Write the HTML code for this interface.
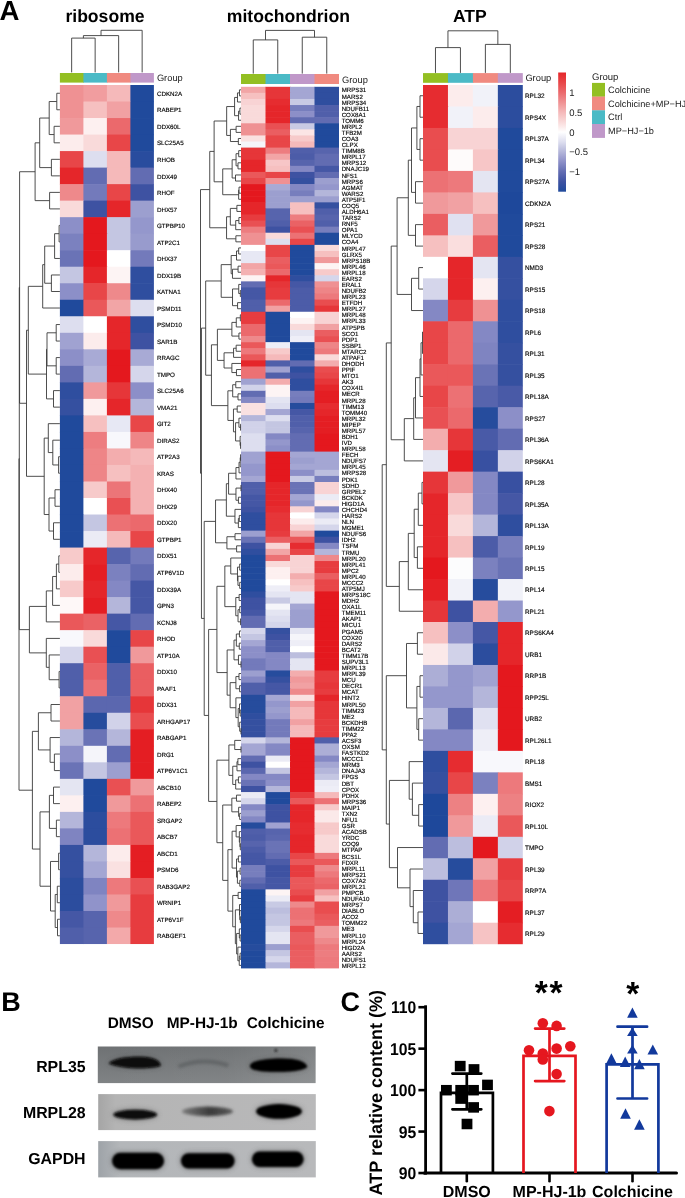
<!DOCTYPE html>
<html><head><meta charset="utf-8"><style>html,body{margin:0;padding:0;background:#fff;}body{width:685px;height:1198px;overflow:hidden;font-family:"Liberation Sans",sans-serif;}svg{display:block;will-change:transform;text-rendering:geometricPrecision;}</style></head><body>
<svg width="685" height="1198" viewBox="0 0 685 1198" font-family="Liberation Sans, sans-serif">
<rect width="685" height="1198" fill="#fff"/>
<text x="-0.6" y="19.6" font-size="27.6" font-weight="bold">A</text>
<text x="105" y="21.7" font-size="17.6" font-weight="bold" text-anchor="middle">ribosome</text>
<text x="288.4" y="21.7" font-size="17.6" font-weight="bold" text-anchor="middle">mitochondrion</text>
<text x="469.9" y="21.7" font-size="17.6" font-weight="bold" text-anchor="middle">ATP</text>
<rect x="59.90" y="85.00" width="24.10" height="17.12" fill="#ef9193"/>
<rect x="83.40" y="85.00" width="24.10" height="17.12" fill="#f19d9f"/>
<rect x="106.90" y="85.00" width="24.10" height="17.12" fill="#f5b9ba"/>
<rect x="130.40" y="85.00" width="23.50" height="17.12" fill="#204a9c"/>
<rect x="59.90" y="101.52" width="24.10" height="17.12" fill="#ef9193"/>
<rect x="83.40" y="101.52" width="24.10" height="17.12" fill="#f6c0c0"/>
<rect x="106.90" y="101.52" width="24.10" height="17.12" fill="#f1a1a3"/>
<rect x="130.40" y="101.52" width="23.50" height="17.12" fill="#204a9c"/>
<rect x="59.90" y="118.04" width="24.10" height="17.12" fill="#f0999b"/>
<rect x="83.40" y="118.04" width="24.10" height="17.12" fill="#fdf0f0"/>
<rect x="106.90" y="118.04" width="24.10" height="17.12" fill="#eb696c"/>
<rect x="130.40" y="118.04" width="23.50" height="17.12" fill="#204a9c"/>
<rect x="59.90" y="134.56" width="24.10" height="17.12" fill="#fcecec"/>
<rect x="83.40" y="134.56" width="24.10" height="17.12" fill="#f9dada"/>
<rect x="106.90" y="134.56" width="24.10" height="17.12" fill="#e84648"/>
<rect x="130.40" y="134.56" width="23.50" height="17.12" fill="#204a9c"/>
<rect x="59.90" y="151.08" width="24.10" height="17.12" fill="#e84648"/>
<rect x="83.40" y="151.08" width="24.10" height="17.12" fill="#dddeef"/>
<rect x="106.90" y="151.08" width="24.10" height="17.12" fill="#f5b9ba"/>
<rect x="130.40" y="151.08" width="23.50" height="17.12" fill="#294c9e"/>
<rect x="59.90" y="167.60" width="24.10" height="17.12" fill="#e5262a"/>
<rect x="83.40" y="167.60" width="24.10" height="17.12" fill="#626cb2"/>
<rect x="106.90" y="167.60" width="24.10" height="17.12" fill="#f5b9ba"/>
<rect x="130.40" y="167.60" width="23.50" height="17.12" fill="#626cb2"/>
<rect x="59.90" y="184.12" width="24.10" height="17.12" fill="#ee898b"/>
<rect x="83.40" y="184.12" width="24.10" height="17.12" fill="#737abb"/>
<rect x="106.90" y="184.12" width="24.10" height="17.12" fill="#e84648"/>
<rect x="130.40" y="184.12" width="23.50" height="17.12" fill="#3e52a2"/>
<rect x="59.90" y="200.64" width="24.10" height="17.12" fill="#f9dada"/>
<rect x="83.40" y="200.64" width="24.10" height="17.12" fill="#3e52a2"/>
<rect x="106.90" y="200.64" width="24.10" height="17.12" fill="#e5262a"/>
<rect x="130.40" y="200.64" width="23.50" height="17.12" fill="#9c9fcf"/>
<rect x="59.90" y="217.16" width="24.10" height="17.12" fill="#8c8fc8"/>
<rect x="83.40" y="217.16" width="24.10" height="17.12" fill="#e4181e"/>
<rect x="106.90" y="217.16" width="24.10" height="17.12" fill="#c4c6e2"/>
<rect x="130.40" y="217.16" width="23.50" height="17.12" fill="#9497cc"/>
<rect x="59.90" y="233.68" width="24.10" height="17.12" fill="#7b81bf"/>
<rect x="83.40" y="233.68" width="24.10" height="17.12" fill="#e4181e"/>
<rect x="106.90" y="233.68" width="24.10" height="17.12" fill="#c4c6e2"/>
<rect x="130.40" y="233.68" width="23.50" height="17.12" fill="#989bcd"/>
<rect x="59.90" y="250.20" width="24.10" height="17.12" fill="#6a73b6"/>
<rect x="83.40" y="250.20" width="24.10" height="17.12" fill="#e4181e"/>
<rect x="106.90" y="250.20" width="24.10" height="17.12" fill="#ffffff"/>
<rect x="130.40" y="250.20" width="23.50" height="17.12" fill="#737abb"/>
<rect x="59.90" y="266.72" width="24.10" height="17.12" fill="#c4c6e2"/>
<rect x="83.40" y="266.72" width="24.10" height="17.12" fill="#e5262a"/>
<rect x="106.90" y="266.72" width="24.10" height="17.12" fill="#fdf4f4"/>
<rect x="130.40" y="266.72" width="23.50" height="17.12" fill="#2f4e9f"/>
<rect x="59.90" y="283.24" width="24.10" height="17.12" fill="#8c8fc8"/>
<rect x="83.40" y="283.24" width="24.10" height="17.12" fill="#e84648"/>
<rect x="106.90" y="283.24" width="24.10" height="17.12" fill="#ee898b"/>
<rect x="130.40" y="283.24" width="23.50" height="17.12" fill="#2f4e9f"/>
<rect x="59.90" y="299.76" width="24.10" height="17.12" fill="#204a9c"/>
<rect x="83.40" y="299.76" width="24.10" height="17.12" fill="#ea585a"/>
<rect x="106.90" y="299.76" width="24.10" height="17.12" fill="#f2a5a6"/>
<rect x="130.40" y="299.76" width="23.50" height="17.12" fill="#dddeef"/>
<rect x="59.90" y="316.28" width="24.10" height="17.12" fill="#dddeef"/>
<rect x="83.40" y="316.28" width="24.10" height="17.12" fill="#ffffff"/>
<rect x="106.90" y="316.28" width="24.10" height="17.12" fill="#e5262a"/>
<rect x="130.40" y="316.28" width="23.50" height="17.12" fill="#2f4e9f"/>
<rect x="59.90" y="332.80" width="24.10" height="17.12" fill="#a0a2d1"/>
<rect x="83.40" y="332.80" width="24.10" height="17.12" fill="#fcecec"/>
<rect x="106.90" y="332.80" width="24.10" height="17.12" fill="#e5262a"/>
<rect x="130.40" y="332.80" width="23.50" height="17.12" fill="#3e52a2"/>
<rect x="59.90" y="349.32" width="24.10" height="17.12" fill="#8c8fc8"/>
<rect x="83.40" y="349.32" width="24.10" height="17.12" fill="#a8aad5"/>
<rect x="106.90" y="349.32" width="24.10" height="17.12" fill="#e4181e"/>
<rect x="130.40" y="349.32" width="23.50" height="17.12" fill="#a8aad5"/>
<rect x="59.90" y="365.84" width="24.10" height="17.12" fill="#626cb2"/>
<rect x="83.40" y="365.84" width="24.10" height="17.12" fill="#b4b6da"/>
<rect x="106.90" y="365.84" width="24.10" height="17.12" fill="#e4181e"/>
<rect x="130.40" y="365.84" width="23.50" height="17.12" fill="#d5d6eb"/>
<rect x="59.90" y="382.36" width="24.10" height="17.12" fill="#2f4e9f"/>
<rect x="83.40" y="382.36" width="24.10" height="17.12" fill="#f0999b"/>
<rect x="106.90" y="382.36" width="24.10" height="17.12" fill="#e63639"/>
<rect x="130.40" y="382.36" width="23.50" height="17.12" fill="#8c8fc8"/>
<rect x="59.90" y="398.88" width="24.10" height="17.12" fill="#3550a0"/>
<rect x="83.40" y="398.88" width="24.10" height="17.12" fill="#fdf0f0"/>
<rect x="106.90" y="398.88" width="24.10" height="17.12" fill="#e5262a"/>
<rect x="130.40" y="398.88" width="23.50" height="17.12" fill="#b4b6da"/>
<rect x="59.90" y="415.40" width="24.10" height="17.12" fill="#204a9c"/>
<rect x="83.40" y="415.40" width="24.10" height="17.12" fill="#f6c0c0"/>
<rect x="106.90" y="415.40" width="24.10" height="17.12" fill="#e7e8f4"/>
<rect x="130.40" y="415.40" width="23.50" height="17.12" fill="#e84648"/>
<rect x="59.90" y="431.92" width="24.10" height="17.12" fill="#204a9c"/>
<rect x="83.40" y="431.92" width="24.10" height="17.12" fill="#ed7d80"/>
<rect x="106.90" y="431.92" width="24.10" height="17.12" fill="#f8f8fc"/>
<rect x="130.40" y="431.92" width="23.50" height="17.12" fill="#ee8587"/>
<rect x="59.90" y="448.44" width="24.10" height="17.12" fill="#204a9c"/>
<rect x="83.40" y="448.44" width="24.10" height="17.12" fill="#ee8587"/>
<rect x="106.90" y="448.44" width="24.10" height="17.12" fill="#f3adae"/>
<rect x="130.40" y="448.44" width="23.50" height="17.12" fill="#f5b9ba"/>
<rect x="59.90" y="464.96" width="24.10" height="17.12" fill="#204a9c"/>
<rect x="83.40" y="464.96" width="24.10" height="17.12" fill="#ee8587"/>
<rect x="106.90" y="464.96" width="24.10" height="17.12" fill="#f6c0c0"/>
<rect x="130.40" y="464.96" width="23.50" height="17.12" fill="#f4b1b2"/>
<rect x="59.90" y="481.48" width="24.10" height="17.12" fill="#204a9c"/>
<rect x="83.40" y="481.48" width="24.10" height="17.12" fill="#f7caca"/>
<rect x="106.90" y="481.48" width="24.10" height="17.12" fill="#ec7578"/>
<rect x="130.40" y="481.48" width="23.50" height="17.12" fill="#f4b1b2"/>
<rect x="59.90" y="498.00" width="24.10" height="17.12" fill="#204a9c"/>
<rect x="83.40" y="498.00" width="24.10" height="17.12" fill="#ffffff"/>
<rect x="106.90" y="498.00" width="24.10" height="17.12" fill="#e95053"/>
<rect x="130.40" y="498.00" width="23.50" height="17.12" fill="#f4b1b2"/>
<rect x="59.90" y="514.52" width="24.10" height="17.12" fill="#204a9c"/>
<rect x="83.40" y="514.52" width="24.10" height="17.12" fill="#c4c6e2"/>
<rect x="106.90" y="514.52" width="24.10" height="17.12" fill="#ec7174"/>
<rect x="130.40" y="514.52" width="23.50" height="17.12" fill="#eb696c"/>
<rect x="59.90" y="531.04" width="24.10" height="17.12" fill="#204a9c"/>
<rect x="83.40" y="531.04" width="24.10" height="17.12" fill="#ebebf5"/>
<rect x="106.90" y="531.04" width="24.10" height="17.12" fill="#f5b9ba"/>
<rect x="130.40" y="531.04" width="23.50" height="17.12" fill="#e84648"/>
<rect x="59.90" y="547.56" width="24.10" height="17.12" fill="#f7caca"/>
<rect x="83.40" y="547.56" width="24.10" height="17.12" fill="#e5262a"/>
<rect x="106.90" y="547.56" width="24.10" height="17.12" fill="#5764ad"/>
<rect x="130.40" y="547.56" width="23.50" height="17.12" fill="#737abb"/>
<rect x="59.90" y="564.08" width="24.10" height="17.12" fill="#fcecec"/>
<rect x="83.40" y="564.08" width="24.10" height="17.12" fill="#e41e23"/>
<rect x="106.90" y="564.08" width="24.10" height="17.12" fill="#7b81bf"/>
<rect x="130.40" y="564.08" width="23.50" height="17.12" fill="#626cb2"/>
<rect x="59.90" y="580.60" width="24.10" height="17.12" fill="#f7caca"/>
<rect x="83.40" y="580.60" width="24.10" height="17.12" fill="#e5262a"/>
<rect x="106.90" y="580.60" width="24.10" height="17.12" fill="#8488c4"/>
<rect x="130.40" y="580.60" width="23.50" height="17.12" fill="#4557a5"/>
<rect x="59.90" y="597.12" width="24.10" height="17.12" fill="#fef8f8"/>
<rect x="83.40" y="597.12" width="24.10" height="17.12" fill="#e41e23"/>
<rect x="106.90" y="597.12" width="24.10" height="17.12" fill="#b4b6da"/>
<rect x="130.40" y="597.12" width="23.50" height="17.12" fill="#4557a5"/>
<rect x="59.90" y="613.64" width="24.10" height="17.12" fill="#ea585a"/>
<rect x="83.40" y="613.64" width="24.10" height="17.12" fill="#ea6265"/>
<rect x="106.90" y="613.64" width="24.10" height="17.12" fill="#4557a5"/>
<rect x="130.40" y="613.64" width="23.50" height="17.12" fill="#626cb2"/>
<rect x="59.90" y="630.16" width="24.10" height="17.12" fill="#f8f8fc"/>
<rect x="83.40" y="630.16" width="24.10" height="17.12" fill="#f9dada"/>
<rect x="106.90" y="630.16" width="24.10" height="17.12" fill="#204a9c"/>
<rect x="130.40" y="630.16" width="23.50" height="17.12" fill="#e84648"/>
<rect x="59.90" y="646.68" width="24.10" height="17.12" fill="#d5d6eb"/>
<rect x="83.40" y="646.68" width="24.10" height="17.12" fill="#e95053"/>
<rect x="106.90" y="646.68" width="24.10" height="17.12" fill="#204a9c"/>
<rect x="130.40" y="646.68" width="23.50" height="17.12" fill="#f0999b"/>
<rect x="59.90" y="663.20" width="24.10" height="17.12" fill="#505faa"/>
<rect x="83.40" y="663.20" width="24.10" height="17.12" fill="#ea6265"/>
<rect x="106.90" y="663.20" width="24.10" height="17.12" fill="#505faa"/>
<rect x="130.40" y="663.20" width="23.50" height="17.12" fill="#ea5e61"/>
<rect x="59.90" y="679.72" width="24.10" height="17.12" fill="#505faa"/>
<rect x="83.40" y="679.72" width="24.10" height="17.12" fill="#ec7174"/>
<rect x="106.90" y="679.72" width="24.10" height="17.12" fill="#505faa"/>
<rect x="130.40" y="679.72" width="23.50" height="17.12" fill="#ea5e61"/>
<rect x="59.90" y="696.24" width="24.10" height="17.12" fill="#f1a1a3"/>
<rect x="83.40" y="696.24" width="24.10" height="17.12" fill="#5b67af"/>
<rect x="106.90" y="696.24" width="24.10" height="17.12" fill="#5b67af"/>
<rect x="130.40" y="696.24" width="23.50" height="17.12" fill="#e63639"/>
<rect x="59.90" y="712.76" width="24.10" height="17.12" fill="#f1a1a3"/>
<rect x="83.40" y="712.76" width="24.10" height="17.12" fill="#264c9d"/>
<rect x="106.90" y="712.76" width="24.10" height="17.12" fill="#d1d2e9"/>
<rect x="130.40" y="712.76" width="23.50" height="17.12" fill="#e94d4f"/>
<rect x="59.90" y="729.28" width="24.10" height="17.12" fill="#b4b6da"/>
<rect x="83.40" y="729.28" width="24.10" height="17.12" fill="#6a73b6"/>
<rect x="106.90" y="729.28" width="24.10" height="17.12" fill="#b4b6da"/>
<rect x="130.40" y="729.28" width="23.50" height="17.12" fill="#e41e23"/>
<rect x="59.90" y="745.80" width="24.10" height="17.12" fill="#8c8fc8"/>
<rect x="83.40" y="745.80" width="24.10" height="17.12" fill="#f5f5fa"/>
<rect x="106.90" y="745.80" width="24.10" height="17.12" fill="#626cb2"/>
<rect x="130.40" y="745.80" width="23.50" height="17.12" fill="#e41e23"/>
<rect x="59.90" y="762.32" width="24.10" height="17.12" fill="#6a73b6"/>
<rect x="83.40" y="762.32" width="24.10" height="17.12" fill="#c4c6e2"/>
<rect x="106.90" y="762.32" width="24.10" height="17.12" fill="#9c9fcf"/>
<rect x="130.40" y="762.32" width="23.50" height="17.12" fill="#e41e23"/>
<rect x="59.90" y="778.84" width="24.10" height="17.12" fill="#e4e5f2"/>
<rect x="83.40" y="778.84" width="24.10" height="17.12" fill="#204a9c"/>
<rect x="106.90" y="778.84" width="24.10" height="17.12" fill="#e95053"/>
<rect x="130.40" y="778.84" width="23.50" height="17.12" fill="#f0999b"/>
<rect x="59.90" y="795.36" width="24.10" height="17.12" fill="#fdf0f0"/>
<rect x="83.40" y="795.36" width="24.10" height="17.12" fill="#204a9c"/>
<rect x="106.90" y="795.36" width="24.10" height="17.12" fill="#f0999b"/>
<rect x="130.40" y="795.36" width="23.50" height="17.12" fill="#ec7174"/>
<rect x="59.90" y="811.88" width="24.10" height="17.12" fill="#b4b6da"/>
<rect x="83.40" y="811.88" width="24.10" height="17.12" fill="#2c4d9e"/>
<rect x="106.90" y="811.88" width="24.10" height="17.12" fill="#ed797c"/>
<rect x="130.40" y="811.88" width="23.50" height="17.12" fill="#ea585a"/>
<rect x="59.90" y="828.40" width="24.10" height="17.12" fill="#7f84c1"/>
<rect x="83.40" y="828.40" width="24.10" height="17.12" fill="#2c4d9e"/>
<rect x="106.90" y="828.40" width="24.10" height="17.12" fill="#ec7174"/>
<rect x="130.40" y="828.40" width="23.50" height="17.12" fill="#ea585a"/>
<rect x="59.90" y="844.92" width="24.10" height="17.12" fill="#3550a0"/>
<rect x="83.40" y="844.92" width="24.10" height="17.12" fill="#b4b6da"/>
<rect x="106.90" y="844.92" width="24.10" height="17.12" fill="#fcecec"/>
<rect x="130.40" y="844.92" width="23.50" height="17.12" fill="#e41e23"/>
<rect x="59.90" y="861.44" width="24.10" height="17.12" fill="#3550a0"/>
<rect x="83.40" y="861.44" width="24.10" height="17.12" fill="#a4a6d3"/>
<rect x="106.90" y="861.44" width="24.10" height="17.12" fill="#fae1e1"/>
<rect x="130.40" y="861.44" width="23.50" height="17.12" fill="#e41e23"/>
<rect x="59.90" y="877.96" width="24.10" height="17.12" fill="#2c4d9e"/>
<rect x="83.40" y="877.96" width="24.10" height="17.12" fill="#7f84c1"/>
<rect x="106.90" y="877.96" width="24.10" height="17.12" fill="#ed797c"/>
<rect x="130.40" y="877.96" width="23.50" height="17.12" fill="#e95053"/>
<rect x="59.90" y="894.48" width="24.10" height="17.12" fill="#2c4d9e"/>
<rect x="83.40" y="894.48" width="24.10" height="17.12" fill="#9093ca"/>
<rect x="106.90" y="894.48" width="24.10" height="17.12" fill="#f0999b"/>
<rect x="130.40" y="894.48" width="23.50" height="17.12" fill="#e73c3f"/>
<rect x="59.90" y="911.00" width="24.10" height="17.12" fill="#4557a5"/>
<rect x="83.40" y="911.00" width="24.10" height="17.12" fill="#5764ad"/>
<rect x="106.90" y="911.00" width="24.10" height="17.12" fill="#ee898b"/>
<rect x="130.40" y="911.00" width="23.50" height="17.12" fill="#e73c3f"/>
<rect x="59.90" y="927.52" width="24.10" height="16.52" fill="#505faa"/>
<rect x="83.40" y="927.52" width="24.10" height="16.52" fill="#5764ad"/>
<rect x="106.90" y="927.52" width="24.10" height="16.52" fill="#f3a9aa"/>
<rect x="130.40" y="927.52" width="23.50" height="16.52" fill="#e73c3f"/>
<rect x="59.90" y="73.00" width="24.10" height="9.60" fill="#93bf22"/>
<rect x="83.40" y="73.00" width="24.10" height="9.60" fill="#4bbac6"/>
<rect x="106.90" y="73.00" width="24.10" height="9.60" fill="#f08a80"/>
<rect x="130.40" y="73.00" width="23.50" height="9.60" fill="#c098c9"/>
<text x="156.90" y="95.91" font-size="6.25" fill="#000" stroke="#000" stroke-width="0.14">CDKN2A</text>
<text x="156.90" y="112.43" font-size="6.25" fill="#000" stroke="#000" stroke-width="0.14">RABEP1</text>
<text x="156.90" y="128.95" font-size="6.25" fill="#000" stroke="#000" stroke-width="0.14">DDX60L</text>
<text x="156.90" y="145.47" font-size="6.25" fill="#000" stroke="#000" stroke-width="0.14">SLC25A5</text>
<text x="156.90" y="161.99" font-size="6.25" fill="#000" stroke="#000" stroke-width="0.14">RHOB</text>
<text x="156.90" y="178.51" font-size="6.25" fill="#000" stroke="#000" stroke-width="0.14">DDX49</text>
<text x="156.90" y="195.03" font-size="6.25" fill="#000" stroke="#000" stroke-width="0.14">RHOF</text>
<text x="156.90" y="211.55" font-size="6.25" fill="#000" stroke="#000" stroke-width="0.14">DHX57</text>
<text x="156.90" y="228.07" font-size="6.25" fill="#000" stroke="#000" stroke-width="0.14">GTPBP10</text>
<text x="156.90" y="244.59" font-size="6.25" fill="#000" stroke="#000" stroke-width="0.14">ATP2C1</text>
<text x="156.90" y="261.11" font-size="6.25" fill="#000" stroke="#000" stroke-width="0.14">DHX37</text>
<text x="156.90" y="277.63" font-size="6.25" fill="#000" stroke="#000" stroke-width="0.14">DDX19B</text>
<text x="156.90" y="294.15" font-size="6.25" fill="#000" stroke="#000" stroke-width="0.14">KATNA1</text>
<text x="156.90" y="310.67" font-size="6.25" fill="#000" stroke="#000" stroke-width="0.14">PSMD11</text>
<text x="156.90" y="327.19" font-size="6.25" fill="#000" stroke="#000" stroke-width="0.14">PSMD10</text>
<text x="156.90" y="343.71" font-size="6.25" fill="#000" stroke="#000" stroke-width="0.14">SAR1B</text>
<text x="156.90" y="360.23" font-size="6.25" fill="#000" stroke="#000" stroke-width="0.14">RRAGC</text>
<text x="156.90" y="376.75" font-size="6.25" fill="#000" stroke="#000" stroke-width="0.14">TMPO</text>
<text x="156.90" y="393.27" font-size="6.25" fill="#000" stroke="#000" stroke-width="0.14">SLC25A6</text>
<text x="156.90" y="409.79" font-size="6.25" fill="#000" stroke="#000" stroke-width="0.14">VMA21</text>
<text x="156.90" y="426.31" font-size="6.25" fill="#000" stroke="#000" stroke-width="0.14">GIT2</text>
<text x="156.90" y="442.83" font-size="6.25" fill="#000" stroke="#000" stroke-width="0.14">DIRAS2</text>
<text x="156.90" y="459.35" font-size="6.25" fill="#000" stroke="#000" stroke-width="0.14">ATP2A3</text>
<text x="156.90" y="475.87" font-size="6.25" fill="#000" stroke="#000" stroke-width="0.14">KRAS</text>
<text x="156.90" y="492.39" font-size="6.25" fill="#000" stroke="#000" stroke-width="0.14">DHX40</text>
<text x="156.90" y="508.91" font-size="6.25" fill="#000" stroke="#000" stroke-width="0.14">DHX29</text>
<text x="156.90" y="525.43" font-size="6.25" fill="#000" stroke="#000" stroke-width="0.14">DDX20</text>
<text x="156.90" y="541.95" font-size="6.25" fill="#000" stroke="#000" stroke-width="0.14">GTPBP1</text>
<text x="156.90" y="558.47" font-size="6.25" fill="#000" stroke="#000" stroke-width="0.14">DDX51</text>
<text x="156.90" y="574.99" font-size="6.25" fill="#000" stroke="#000" stroke-width="0.14">ATP6V1D</text>
<text x="156.90" y="591.51" font-size="6.25" fill="#000" stroke="#000" stroke-width="0.14">DDX39A</text>
<text x="156.90" y="608.03" font-size="6.25" fill="#000" stroke="#000" stroke-width="0.14">GPN3</text>
<text x="156.90" y="624.55" font-size="6.25" fill="#000" stroke="#000" stroke-width="0.14">KCNJ8</text>
<text x="156.90" y="641.07" font-size="6.25" fill="#000" stroke="#000" stroke-width="0.14">RHOD</text>
<text x="156.90" y="657.59" font-size="6.25" fill="#000" stroke="#000" stroke-width="0.14">ATP10A</text>
<text x="156.90" y="674.11" font-size="6.25" fill="#000" stroke="#000" stroke-width="0.14">DDX10</text>
<text x="156.90" y="690.63" font-size="6.25" fill="#000" stroke="#000" stroke-width="0.14">PAAF1</text>
<text x="156.90" y="707.15" font-size="6.25" fill="#000" stroke="#000" stroke-width="0.14">DDX31</text>
<text x="156.90" y="723.67" font-size="6.25" fill="#000" stroke="#000" stroke-width="0.14">ARHGAP17</text>
<text x="156.90" y="740.19" font-size="6.25" fill="#000" stroke="#000" stroke-width="0.14">RABGAP1</text>
<text x="156.90" y="756.71" font-size="6.25" fill="#000" stroke="#000" stroke-width="0.14">DRG1</text>
<text x="156.90" y="773.23" font-size="6.25" fill="#000" stroke="#000" stroke-width="0.14">ATP6V1C1</text>
<text x="156.90" y="789.75" font-size="6.25" fill="#000" stroke="#000" stroke-width="0.14">ABCB10</text>
<text x="156.90" y="806.27" font-size="6.25" fill="#000" stroke="#000" stroke-width="0.14">RABEP2</text>
<text x="156.90" y="822.79" font-size="6.25" fill="#000" stroke="#000" stroke-width="0.14">SRGAP2</text>
<text x="156.90" y="839.31" font-size="6.25" fill="#000" stroke="#000" stroke-width="0.14">ABCB7</text>
<text x="156.90" y="855.83" font-size="6.25" fill="#000" stroke="#000" stroke-width="0.14">ABCD1</text>
<text x="156.90" y="872.35" font-size="6.25" fill="#000" stroke="#000" stroke-width="0.14">PSMD6</text>
<text x="156.90" y="888.87" font-size="6.25" fill="#000" stroke="#000" stroke-width="0.14">RAB3GAP2</text>
<text x="156.90" y="905.39" font-size="6.25" fill="#000" stroke="#000" stroke-width="0.14">WRNIP1</text>
<text x="156.90" y="921.91" font-size="6.25" fill="#000" stroke="#000" stroke-width="0.14">ATP6V1F</text>
<text x="156.90" y="938.43" font-size="6.25" fill="#000" stroke="#000" stroke-width="0.14">RABGEF1</text>
<path d="M56.80 93.26L56.80 109.78 M56.80 93.26L59.90 93.26 M56.80 109.78L59.90 109.78 M54.10 126.30L54.10 142.82 M54.10 126.30L59.90 126.30 M54.10 142.82L59.90 142.82 M49.20 101.52L49.20 134.56 M49.20 101.52L56.80 101.52 M49.20 134.56L54.10 134.56 M51.40 159.34L51.40 175.86 M51.40 159.34L59.90 159.34 M51.40 175.86L59.90 175.86 M39.70 118.04L39.70 167.60 M39.70 118.04L49.20 118.04 M39.70 167.60L51.40 167.60 M49.60 192.38L49.60 208.90 M49.60 192.38L59.90 192.38 M49.60 208.90L59.90 208.90 M35.10 142.82L35.10 200.64 M35.10 142.82L39.70 142.82 M35.10 200.64L49.60 200.64 M59.10 225.42L59.10 241.94 M59.10 225.42L59.90 225.42 M59.10 241.94L59.90 241.94 M54.60 233.68L54.60 258.46 M54.60 233.68L59.10 233.68 M54.60 258.46L59.90 258.46 M51.40 274.98L51.40 291.50 M51.40 274.98L59.90 274.98 M51.40 291.50L59.90 291.50 M44.70 246.07L44.70 283.24 M44.70 246.07L54.60 246.07 M44.70 283.24L51.40 283.24 M42.70 264.66L42.70 308.02 M42.70 264.66L44.70 264.66 M42.70 308.02L59.90 308.02 M56.20 324.54L56.20 341.06 M56.20 324.54L59.90 324.54 M56.20 341.06L59.90 341.06 M56.20 357.58L56.20 374.10 M56.20 357.58L59.90 357.58 M56.20 374.10L59.90 374.10 M47.00 332.80L47.00 365.84 M47.00 332.80L56.20 332.80 M47.00 365.84L56.20 365.84 M53.50 390.62L53.50 407.14 M53.50 390.62L59.90 390.62 M53.50 407.14L59.90 407.14 M46.50 349.32L46.50 398.88 M46.50 349.32L47.00 349.32 M46.50 398.88L53.50 398.88 M28.30 286.34L28.30 374.10 M28.30 286.34L42.70 286.34 M28.30 374.10L46.50 374.10 M58.60 456.70L58.60 473.22 M58.60 456.70L59.90 456.70 M58.60 473.22L59.90 473.22 M52.80 440.18L52.80 464.96 M52.80 440.18L59.90 440.18 M52.80 464.96L58.60 464.96 M48.30 423.66L48.30 452.57 M48.30 423.66L59.90 423.66 M48.30 452.57L52.80 452.57 M55.00 489.74L55.00 506.26 M55.00 489.74L59.90 489.74 M55.00 506.26L59.90 506.26 M53.50 522.78L53.50 539.30 M53.50 522.78L59.90 522.78 M53.50 539.30L59.90 539.30 M49.00 498.00L49.00 531.04 M49.00 498.00L55.00 498.00 M49.00 531.04L53.50 531.04 M44.20 438.12L44.20 514.52 M44.20 438.12L48.30 438.12 M44.20 514.52L49.00 514.52 M26.50 330.22L26.50 476.32 M26.50 330.22L28.30 330.22 M26.50 476.32L44.20 476.32 M19.60 171.73L19.60 403.27 M19.60 171.73L35.10 171.73 M19.60 403.27L26.50 403.27 M58.80 555.82L58.80 572.34 M58.80 555.82L59.90 555.82 M58.80 572.34L59.90 572.34 M56.40 564.08L56.40 588.86 M56.40 564.08L58.80 564.08 M56.40 588.86L59.90 588.86 M52.60 576.47L52.60 605.38 M52.60 576.47L56.40 576.47 M52.60 605.38L59.90 605.38 M46.30 590.92L46.30 621.90 M46.30 590.92L52.60 590.92 M46.30 621.90L59.90 621.90 M59.10 671.46L59.10 687.98 M59.10 671.46L59.90 671.46 M59.10 687.98L59.90 687.98 M49.20 654.94L49.20 679.72 M49.20 654.94L59.90 654.94 M49.20 679.72L59.10 679.72 M46.30 638.42L46.30 667.33 M46.30 638.42L59.90 638.42 M46.30 667.33L49.20 667.33 M29.40 606.41L29.40 652.88 M29.40 606.41L46.30 606.41 M29.40 652.88L46.30 652.88 M19.30 287.50L19.30 629.64 M19.30 287.50L19.60 287.50 M19.30 629.64L29.40 629.64 M51.00 704.50L51.00 721.02 M51.00 704.50L59.90 704.50 M51.00 721.02L59.90 721.02 M54.40 754.06L54.40 770.58 M54.40 754.06L59.90 754.06 M54.40 770.58L59.90 770.58 M50.10 737.54L50.10 762.32 M50.10 737.54L59.90 737.54 M50.10 762.32L54.40 762.32 M38.40 712.76L38.40 749.93 M38.40 712.76L51.00 712.76 M38.40 749.93L50.10 749.93 M53.50 787.10L53.50 803.62 M53.50 787.10L59.90 787.10 M53.50 803.62L59.90 803.62 M56.40 820.14L56.40 836.66 M56.40 820.14L59.90 820.14 M56.40 836.66L59.90 836.66 M49.40 795.36L49.40 828.40 M49.40 795.36L53.50 795.36 M49.40 828.40L56.40 828.40 M58.60 853.18L58.60 869.70 M58.60 853.18L59.90 853.18 M58.60 869.70L59.90 869.70 M57.30 886.22L57.30 902.74 M57.30 886.22L59.90 886.22 M57.30 902.74L59.90 902.74 M57.50 919.26L57.50 935.78 M57.50 919.26L59.90 919.26 M57.50 935.78L59.90 935.78 M55.20 894.48L55.20 927.52 M55.20 894.48L57.30 894.48 M55.20 927.52L57.50 927.52 M50.50 861.44L50.50 911.00 M50.50 861.44L58.60 861.44 M50.50 911.00L55.20 911.00 M40.00 811.88L40.00 886.22 M40.00 811.88L49.40 811.88 M40.00 886.22L50.50 886.22 M32.40 731.35L32.40 849.05 M32.40 731.35L38.40 731.35 M32.40 849.05L40.00 849.05 M19.00 458.57L19.00 790.20 M19.00 458.57L19.30 458.57 M19.00 790.20L32.40 790.20" stroke="#3a3a3a" stroke-width="0.9" fill="none"/>
<path d="M71.65 72.40L71.65 38.10 M95.15 72.40L95.15 38.10 M71.65 38.10L95.15 38.10 M83.40 38.10L83.40 35.60 M118.65 72.40L118.65 35.60 M83.40 35.60L118.65 35.60 M101.03 35.60L101.03 30.30 M142.15 72.40L142.15 30.30 M101.03 30.30L142.15 30.30" stroke="#3a3a3a" stroke-width="0.9" fill="none"/>
<text x="156.9" y="80.7" font-size="9.3" fill="#222">Group</text>
<rect x="241.00" y="86.80" width="25.10" height="6.68" fill="#f2a5a6"/>
<rect x="265.50" y="86.80" width="25.10" height="6.68" fill="#e63639"/>
<rect x="290.00" y="86.80" width="25.10" height="6.68" fill="#a4a6d3"/>
<rect x="314.50" y="86.80" width="24.50" height="6.68" fill="#2f4e9f"/>
<rect x="241.00" y="92.88" width="25.10" height="6.68" fill="#f6c0c0"/>
<rect x="265.50" y="92.88" width="25.10" height="6.68" fill="#e63639"/>
<rect x="290.00" y="92.88" width="25.10" height="6.68" fill="#a4a6d3"/>
<rect x="314.50" y="92.88" width="24.50" height="6.68" fill="#2f4e9f"/>
<rect x="241.00" y="98.96" width="25.10" height="6.68" fill="#f8d3d4"/>
<rect x="265.50" y="98.96" width="25.10" height="6.68" fill="#e62c30"/>
<rect x="290.00" y="98.96" width="25.10" height="6.68" fill="#c8cae4"/>
<rect x="314.50" y="98.96" width="24.50" height="6.68" fill="#2f4e9f"/>
<rect x="241.00" y="105.04" width="25.10" height="6.68" fill="#f9dada"/>
<rect x="265.50" y="105.04" width="25.10" height="6.68" fill="#e5262a"/>
<rect x="290.00" y="105.04" width="25.10" height="6.68" fill="#777ebd"/>
<rect x="314.50" y="105.04" width="24.50" height="6.68" fill="#505faa"/>
<rect x="241.00" y="111.12" width="25.10" height="6.68" fill="#f9dada"/>
<rect x="265.50" y="111.12" width="25.10" height="6.68" fill="#e5262a"/>
<rect x="290.00" y="111.12" width="25.10" height="6.68" fill="#8c8fc8"/>
<rect x="314.50" y="111.12" width="24.50" height="6.68" fill="#505faa"/>
<rect x="241.00" y="117.20" width="25.10" height="6.68" fill="#f9dada"/>
<rect x="265.50" y="117.20" width="25.10" height="6.68" fill="#e5262a"/>
<rect x="290.00" y="117.20" width="25.10" height="6.68" fill="#626cb2"/>
<rect x="314.50" y="117.20" width="24.50" height="6.68" fill="#626cb2"/>
<rect x="241.00" y="123.28" width="25.10" height="6.68" fill="#ef9193"/>
<rect x="265.50" y="123.28" width="25.10" height="6.68" fill="#e95053"/>
<rect x="290.00" y="123.28" width="25.10" height="6.68" fill="#c8cae4"/>
<rect x="314.50" y="123.28" width="24.50" height="6.68" fill="#204a9c"/>
<rect x="241.00" y="129.36" width="25.10" height="6.68" fill="#ef9193"/>
<rect x="265.50" y="129.36" width="25.10" height="6.68" fill="#ea5e61"/>
<rect x="290.00" y="129.36" width="25.10" height="6.68" fill="#fbe5e5"/>
<rect x="314.50" y="129.36" width="24.50" height="6.68" fill="#204a9c"/>
<rect x="241.00" y="135.44" width="25.10" height="6.68" fill="#fae1e1"/>
<rect x="265.50" y="135.44" width="25.10" height="6.68" fill="#e84648"/>
<rect x="290.00" y="135.44" width="25.10" height="6.68" fill="#f7caca"/>
<rect x="314.50" y="135.44" width="24.50" height="6.68" fill="#204a9c"/>
<rect x="241.00" y="141.52" width="25.10" height="6.68" fill="#f5f5fa"/>
<rect x="265.50" y="141.52" width="25.10" height="6.68" fill="#e84648"/>
<rect x="290.00" y="141.52" width="25.10" height="6.68" fill="#f5b9ba"/>
<rect x="314.50" y="141.52" width="24.50" height="6.68" fill="#204a9c"/>
<rect x="241.00" y="147.60" width="25.10" height="6.68" fill="#e63639"/>
<rect x="265.50" y="147.60" width="25.10" height="6.68" fill="#ed7d80"/>
<rect x="290.00" y="147.60" width="25.10" height="6.68" fill="#505faa"/>
<rect x="314.50" y="147.60" width="24.50" height="6.68" fill="#5764ad"/>
<rect x="241.00" y="153.68" width="25.10" height="6.68" fill="#e63639"/>
<rect x="265.50" y="153.68" width="25.10" height="6.68" fill="#f2a5a6"/>
<rect x="290.00" y="153.68" width="25.10" height="6.68" fill="#4c5ca8"/>
<rect x="314.50" y="153.68" width="24.50" height="6.68" fill="#626cb2"/>
<rect x="241.00" y="159.76" width="25.10" height="6.68" fill="#e5262a"/>
<rect x="265.50" y="159.76" width="25.10" height="6.68" fill="#f7c6c7"/>
<rect x="290.00" y="159.76" width="25.10" height="6.68" fill="#5764ad"/>
<rect x="314.50" y="159.76" width="24.50" height="6.68" fill="#626cb2"/>
<rect x="241.00" y="165.84" width="25.10" height="6.68" fill="#e5262a"/>
<rect x="265.50" y="165.84" width="25.10" height="6.68" fill="#f6c0c0"/>
<rect x="290.00" y="165.84" width="25.10" height="6.68" fill="#8488c4"/>
<rect x="314.50" y="165.84" width="24.50" height="6.68" fill="#4557a5"/>
<rect x="241.00" y="171.92" width="25.10" height="6.68" fill="#ea585a"/>
<rect x="265.50" y="171.92" width="25.10" height="6.68" fill="#e84648"/>
<rect x="290.00" y="171.92" width="25.10" height="6.68" fill="#3e52a2"/>
<rect x="314.50" y="171.92" width="24.50" height="6.68" fill="#626cb2"/>
<rect x="241.00" y="178.00" width="25.10" height="6.68" fill="#e84648"/>
<rect x="265.50" y="178.00" width="25.10" height="6.68" fill="#ef9193"/>
<rect x="290.00" y="178.00" width="25.10" height="6.68" fill="#3550a0"/>
<rect x="314.50" y="178.00" width="24.50" height="6.68" fill="#9c9fcf"/>
<rect x="241.00" y="184.08" width="25.10" height="6.68" fill="#e4181e"/>
<rect x="265.50" y="184.08" width="25.10" height="6.68" fill="#a8aad5"/>
<rect x="290.00" y="184.08" width="25.10" height="6.68" fill="#8488c4"/>
<rect x="314.50" y="184.08" width="24.50" height="6.68" fill="#9497cc"/>
<rect x="241.00" y="190.16" width="25.10" height="6.68" fill="#e4181e"/>
<rect x="265.50" y="190.16" width="25.10" height="6.68" fill="#9c9fcf"/>
<rect x="290.00" y="190.16" width="25.10" height="6.68" fill="#777ebd"/>
<rect x="314.50" y="190.16" width="24.50" height="6.68" fill="#b4b6da"/>
<rect x="241.00" y="196.24" width="25.10" height="6.68" fill="#e4181e"/>
<rect x="265.50" y="196.24" width="25.10" height="6.68" fill="#9c9fcf"/>
<rect x="290.00" y="196.24" width="25.10" height="6.68" fill="#9c9fcf"/>
<rect x="314.50" y="196.24" width="24.50" height="6.68" fill="#9c9fcf"/>
<rect x="241.00" y="202.32" width="25.10" height="6.68" fill="#e5262a"/>
<rect x="265.50" y="202.32" width="25.10" height="6.68" fill="#9c9fcf"/>
<rect x="290.00" y="202.32" width="25.10" height="6.68" fill="#f6c0c0"/>
<rect x="314.50" y="202.32" width="24.50" height="6.68" fill="#3550a0"/>
<rect x="241.00" y="208.40" width="25.10" height="6.68" fill="#e5262a"/>
<rect x="265.50" y="208.40" width="25.10" height="6.68" fill="#5764ad"/>
<rect x="290.00" y="208.40" width="25.10" height="6.68" fill="#f6c0c0"/>
<rect x="314.50" y="208.40" width="24.50" height="6.68" fill="#505faa"/>
<rect x="241.00" y="214.48" width="25.10" height="6.68" fill="#e73c3f"/>
<rect x="265.50" y="214.48" width="25.10" height="6.68" fill="#5764ad"/>
<rect x="290.00" y="214.48" width="25.10" height="6.68" fill="#ed7d80"/>
<rect x="314.50" y="214.48" width="24.50" height="6.68" fill="#5764ad"/>
<rect x="241.00" y="220.56" width="25.10" height="6.68" fill="#e95053"/>
<rect x="265.50" y="220.56" width="25.10" height="6.68" fill="#505faa"/>
<rect x="290.00" y="220.56" width="25.10" height="6.68" fill="#ea6265"/>
<rect x="314.50" y="220.56" width="24.50" height="6.68" fill="#505faa"/>
<rect x="241.00" y="226.64" width="25.10" height="6.68" fill="#ed7d80"/>
<rect x="265.50" y="226.64" width="25.10" height="6.68" fill="#3e52a2"/>
<rect x="290.00" y="226.64" width="25.10" height="6.68" fill="#e95053"/>
<rect x="314.50" y="226.64" width="24.50" height="6.68" fill="#777ebd"/>
<rect x="241.00" y="232.72" width="25.10" height="6.68" fill="#ef9193"/>
<rect x="265.50" y="232.72" width="25.10" height="6.68" fill="#f9dada"/>
<rect x="290.00" y="232.72" width="25.10" height="6.68" fill="#ec7174"/>
<rect x="314.50" y="232.72" width="24.50" height="6.68" fill="#204a9c"/>
<rect x="241.00" y="238.80" width="25.10" height="6.68" fill="#ef9193"/>
<rect x="265.50" y="238.80" width="25.10" height="6.68" fill="#dddeef"/>
<rect x="290.00" y="238.80" width="25.10" height="6.68" fill="#e84648"/>
<rect x="314.50" y="238.80" width="24.50" height="6.68" fill="#204a9c"/>
<rect x="241.00" y="244.88" width="25.10" height="6.68" fill="#ffffff"/>
<rect x="265.50" y="244.88" width="25.10" height="6.68" fill="#e84648"/>
<rect x="290.00" y="244.88" width="25.10" height="6.68" fill="#204a9c"/>
<rect x="314.50" y="244.88" width="24.50" height="6.68" fill="#f9dada"/>
<rect x="241.00" y="250.96" width="25.10" height="6.68" fill="#e7e8f4"/>
<rect x="265.50" y="250.96" width="25.10" height="6.68" fill="#e84648"/>
<rect x="290.00" y="250.96" width="25.10" height="6.68" fill="#204a9c"/>
<rect x="314.50" y="250.96" width="24.50" height="6.68" fill="#f6c0c0"/>
<rect x="241.00" y="257.04" width="25.10" height="6.68" fill="#e7e8f4"/>
<rect x="265.50" y="257.04" width="25.10" height="6.68" fill="#ea5e61"/>
<rect x="290.00" y="257.04" width="25.10" height="6.68" fill="#204a9c"/>
<rect x="314.50" y="257.04" width="24.50" height="6.68" fill="#f0999b"/>
<rect x="241.00" y="263.12" width="25.10" height="6.68" fill="#f2a5a6"/>
<rect x="265.50" y="263.12" width="25.10" height="6.68" fill="#ea585a"/>
<rect x="290.00" y="263.12" width="25.10" height="6.68" fill="#204a9c"/>
<rect x="314.50" y="263.12" width="24.50" height="6.68" fill="#fdf4f4"/>
<rect x="241.00" y="269.20" width="25.10" height="6.68" fill="#f4b1b2"/>
<rect x="265.50" y="269.20" width="25.10" height="6.68" fill="#eb696c"/>
<rect x="290.00" y="269.20" width="25.10" height="6.68" fill="#204a9c"/>
<rect x="314.50" y="269.20" width="24.50" height="6.68" fill="#f7caca"/>
<rect x="241.00" y="275.28" width="25.10" height="6.68" fill="#fdf4f4"/>
<rect x="265.50" y="275.28" width="25.10" height="6.68" fill="#e5262a"/>
<rect x="290.00" y="275.28" width="25.10" height="6.68" fill="#2f4e9f"/>
<rect x="314.50" y="275.28" width="24.50" height="6.68" fill="#d5d6eb"/>
<rect x="241.00" y="281.36" width="25.10" height="6.68" fill="#626cb2"/>
<rect x="265.50" y="281.36" width="25.10" height="6.68" fill="#e63639"/>
<rect x="290.00" y="281.36" width="25.10" height="6.68" fill="#4557a5"/>
<rect x="314.50" y="281.36" width="24.50" height="6.68" fill="#ef9193"/>
<rect x="241.00" y="287.44" width="25.10" height="6.68" fill="#4557a5"/>
<rect x="265.50" y="287.44" width="25.10" height="6.68" fill="#e73c3f"/>
<rect x="290.00" y="287.44" width="25.10" height="6.68" fill="#4c5ca8"/>
<rect x="314.50" y="287.44" width="24.50" height="6.68" fill="#ee8587"/>
<rect x="241.00" y="293.52" width="25.10" height="6.68" fill="#4557a5"/>
<rect x="265.50" y="293.52" width="25.10" height="6.68" fill="#e73c3f"/>
<rect x="290.00" y="293.52" width="25.10" height="6.68" fill="#4c5ca8"/>
<rect x="314.50" y="293.52" width="24.50" height="6.68" fill="#ed797c"/>
<rect x="241.00" y="299.60" width="25.10" height="6.68" fill="#505faa"/>
<rect x="265.50" y="299.60" width="25.10" height="6.68" fill="#eb696c"/>
<rect x="290.00" y="299.60" width="25.10" height="6.68" fill="#4c5ca8"/>
<rect x="314.50" y="299.60" width="24.50" height="6.68" fill="#e94d4f"/>
<rect x="241.00" y="305.68" width="25.10" height="6.68" fill="#505faa"/>
<rect x="265.50" y="305.68" width="25.10" height="6.68" fill="#f1a1a3"/>
<rect x="290.00" y="305.68" width="25.10" height="6.68" fill="#4c5ca8"/>
<rect x="314.50" y="305.68" width="24.50" height="6.68" fill="#e63639"/>
<rect x="241.00" y="311.76" width="25.10" height="6.68" fill="#e73c3f"/>
<rect x="265.50" y="311.76" width="25.10" height="6.68" fill="#204a9c"/>
<rect x="290.00" y="311.76" width="25.10" height="6.68" fill="#ffffff"/>
<rect x="314.50" y="311.76" width="24.50" height="6.68" fill="#f8d3d4"/>
<rect x="241.00" y="317.84" width="25.10" height="6.68" fill="#e73c3f"/>
<rect x="265.50" y="317.84" width="25.10" height="6.68" fill="#204a9c"/>
<rect x="290.00" y="317.84" width="25.10" height="6.68" fill="#fdf4f4"/>
<rect x="314.50" y="317.84" width="24.50" height="6.68" fill="#f8d3d4"/>
<rect x="241.00" y="323.92" width="25.10" height="6.68" fill="#eb696c"/>
<rect x="265.50" y="323.92" width="25.10" height="6.68" fill="#204a9c"/>
<rect x="290.00" y="323.92" width="25.10" height="6.68" fill="#f9dada"/>
<rect x="314.50" y="323.92" width="24.50" height="6.68" fill="#f1a1a3"/>
<rect x="241.00" y="330.00" width="25.10" height="6.68" fill="#eb696c"/>
<rect x="265.50" y="330.00" width="25.10" height="6.68" fill="#204a9c"/>
<rect x="290.00" y="330.00" width="25.10" height="6.68" fill="#e4e5f2"/>
<rect x="314.50" y="330.00" width="24.50" height="6.68" fill="#ea5e61"/>
<rect x="241.00" y="336.08" width="25.10" height="6.68" fill="#ee898b"/>
<rect x="265.50" y="336.08" width="25.10" height="6.68" fill="#204a9c"/>
<rect x="290.00" y="336.08" width="25.10" height="6.68" fill="#eeeef7"/>
<rect x="314.50" y="336.08" width="24.50" height="6.68" fill="#e95053"/>
<rect x="241.00" y="342.16" width="25.10" height="6.68" fill="#ea585a"/>
<rect x="265.50" y="342.16" width="25.10" height="6.68" fill="#eeeef7"/>
<rect x="290.00" y="342.16" width="25.10" height="6.68" fill="#204a9c"/>
<rect x="314.50" y="342.16" width="24.50" height="6.68" fill="#ee8587"/>
<rect x="241.00" y="348.24" width="25.10" height="6.68" fill="#ed797c"/>
<rect x="265.50" y="348.24" width="25.10" height="6.68" fill="#f7caca"/>
<rect x="290.00" y="348.24" width="25.10" height="6.68" fill="#204a9c"/>
<rect x="314.50" y="348.24" width="24.50" height="6.68" fill="#ed797c"/>
<rect x="241.00" y="354.32" width="25.10" height="6.68" fill="#ea585a"/>
<rect x="265.50" y="354.32" width="25.10" height="6.68" fill="#f5b9ba"/>
<rect x="290.00" y="354.32" width="25.10" height="6.68" fill="#204a9c"/>
<rect x="314.50" y="354.32" width="24.50" height="6.68" fill="#f9dada"/>
<rect x="241.00" y="360.40" width="25.10" height="6.68" fill="#e5262a"/>
<rect x="265.50" y="360.40" width="25.10" height="6.68" fill="#505faa"/>
<rect x="290.00" y="360.40" width="25.10" height="6.68" fill="#626cb2"/>
<rect x="314.50" y="360.40" width="24.50" height="6.68" fill="#f3adae"/>
<rect x="241.00" y="366.48" width="25.10" height="6.68" fill="#ec7174"/>
<rect x="265.50" y="366.48" width="25.10" height="6.68" fill="#a0a2d1"/>
<rect x="290.00" y="366.48" width="25.10" height="6.68" fill="#2f4e9f"/>
<rect x="314.50" y="366.48" width="24.50" height="6.68" fill="#e94d4f"/>
<rect x="241.00" y="372.56" width="25.10" height="6.68" fill="#ec7174"/>
<rect x="265.50" y="372.56" width="25.10" height="6.68" fill="#505faa"/>
<rect x="290.00" y="372.56" width="25.10" height="6.68" fill="#3e52a2"/>
<rect x="314.50" y="372.56" width="24.50" height="6.68" fill="#e84648"/>
<rect x="241.00" y="378.64" width="25.10" height="6.68" fill="#a0a2d1"/>
<rect x="265.50" y="378.64" width="25.10" height="6.68" fill="#f3adae"/>
<rect x="290.00" y="378.64" width="25.10" height="6.68" fill="#2f4e9f"/>
<rect x="314.50" y="378.64" width="24.50" height="6.68" fill="#e63639"/>
<rect x="241.00" y="384.72" width="25.10" height="6.68" fill="#d1d2e9"/>
<rect x="265.50" y="384.72" width="25.10" height="6.68" fill="#fdf4f4"/>
<rect x="290.00" y="384.72" width="25.10" height="6.68" fill="#2f4e9f"/>
<rect x="314.50" y="384.72" width="24.50" height="6.68" fill="#e5262a"/>
<rect x="241.00" y="390.80" width="25.10" height="6.68" fill="#626cb2"/>
<rect x="265.50" y="390.80" width="25.10" height="6.68" fill="#fdf4f4"/>
<rect x="290.00" y="390.80" width="25.10" height="6.68" fill="#777ebd"/>
<rect x="314.50" y="390.80" width="24.50" height="6.68" fill="#e41e23"/>
<rect x="241.00" y="396.88" width="25.10" height="6.68" fill="#8488c4"/>
<rect x="265.50" y="396.88" width="25.10" height="6.68" fill="#e4e5f2"/>
<rect x="290.00" y="396.88" width="25.10" height="6.68" fill="#737abb"/>
<rect x="314.50" y="396.88" width="24.50" height="6.68" fill="#e41e23"/>
<rect x="241.00" y="402.96" width="25.10" height="6.68" fill="#fae1e1"/>
<rect x="265.50" y="402.96" width="25.10" height="6.68" fill="#dddeef"/>
<rect x="290.00" y="402.96" width="25.10" height="6.68" fill="#264c9d"/>
<rect x="314.50" y="402.96" width="24.50" height="6.68" fill="#e62c30"/>
<rect x="241.00" y="409.04" width="25.10" height="6.68" fill="#fae1e1"/>
<rect x="265.50" y="409.04" width="25.10" height="6.68" fill="#a4a6d3"/>
<rect x="290.00" y="409.04" width="25.10" height="6.68" fill="#4557a5"/>
<rect x="314.50" y="409.04" width="24.50" height="6.68" fill="#e5262a"/>
<rect x="241.00" y="415.12" width="25.10" height="6.68" fill="#b4b6da"/>
<rect x="265.50" y="415.12" width="25.10" height="6.68" fill="#dddeef"/>
<rect x="290.00" y="415.12" width="25.10" height="6.68" fill="#505faa"/>
<rect x="314.50" y="415.12" width="24.50" height="6.68" fill="#e41e23"/>
<rect x="241.00" y="421.20" width="25.10" height="6.68" fill="#d1d2e9"/>
<rect x="265.50" y="421.20" width="25.10" height="6.68" fill="#c4c6e2"/>
<rect x="290.00" y="421.20" width="25.10" height="6.68" fill="#505faa"/>
<rect x="314.50" y="421.20" width="24.50" height="6.68" fill="#e41e23"/>
<rect x="241.00" y="427.28" width="25.10" height="6.68" fill="#d1d2e9"/>
<rect x="265.50" y="427.28" width="25.10" height="6.68" fill="#c4c6e2"/>
<rect x="290.00" y="427.28" width="25.10" height="6.68" fill="#5764ad"/>
<rect x="314.50" y="427.28" width="24.50" height="6.68" fill="#e41e23"/>
<rect x="241.00" y="433.36" width="25.10" height="6.68" fill="#dddeef"/>
<rect x="265.50" y="433.36" width="25.10" height="6.68" fill="#8488c4"/>
<rect x="290.00" y="433.36" width="25.10" height="6.68" fill="#626cb2"/>
<rect x="314.50" y="433.36" width="24.50" height="6.68" fill="#e4181e"/>
<rect x="241.00" y="439.44" width="25.10" height="6.68" fill="#dddeef"/>
<rect x="265.50" y="439.44" width="25.10" height="6.68" fill="#9497cc"/>
<rect x="290.00" y="439.44" width="25.10" height="6.68" fill="#626cb2"/>
<rect x="314.50" y="439.44" width="24.50" height="6.68" fill="#e4181e"/>
<rect x="241.00" y="445.52" width="25.10" height="6.68" fill="#dddeef"/>
<rect x="265.50" y="445.52" width="25.10" height="6.68" fill="#8c8fc8"/>
<rect x="290.00" y="445.52" width="25.10" height="6.68" fill="#626cb2"/>
<rect x="314.50" y="445.52" width="24.50" height="6.68" fill="#e4181e"/>
<rect x="241.00" y="451.60" width="25.10" height="6.68" fill="#a0a2d1"/>
<rect x="265.50" y="451.60" width="25.10" height="6.68" fill="#e4181e"/>
<rect x="290.00" y="451.60" width="25.10" height="6.68" fill="#a4a6d3"/>
<rect x="314.50" y="451.60" width="24.50" height="6.68" fill="#a4a6d3"/>
<rect x="241.00" y="457.68" width="25.10" height="6.68" fill="#a0a2d1"/>
<rect x="265.50" y="457.68" width="25.10" height="6.68" fill="#e4181e"/>
<rect x="290.00" y="457.68" width="25.10" height="6.68" fill="#9c9fcf"/>
<rect x="314.50" y="457.68" width="24.50" height="6.68" fill="#a4a6d3"/>
<rect x="241.00" y="463.76" width="25.10" height="6.68" fill="#9497cc"/>
<rect x="265.50" y="463.76" width="25.10" height="6.68" fill="#e4181e"/>
<rect x="290.00" y="463.76" width="25.10" height="6.68" fill="#a4a6d3"/>
<rect x="314.50" y="463.76" width="24.50" height="6.68" fill="#a4a6d3"/>
<rect x="241.00" y="469.84" width="25.10" height="6.68" fill="#9497cc"/>
<rect x="265.50" y="469.84" width="25.10" height="6.68" fill="#e4181e"/>
<rect x="290.00" y="469.84" width="25.10" height="6.68" fill="#8c8fc8"/>
<rect x="314.50" y="469.84" width="24.50" height="6.68" fill="#bcbede"/>
<rect x="241.00" y="475.92" width="25.10" height="6.68" fill="#a4a6d3"/>
<rect x="265.50" y="475.92" width="25.10" height="6.68" fill="#e4181e"/>
<rect x="290.00" y="475.92" width="25.10" height="6.68" fill="#c8cae4"/>
<rect x="314.50" y="475.92" width="24.50" height="6.68" fill="#777ebd"/>
<rect x="241.00" y="482.00" width="25.10" height="6.68" fill="#505faa"/>
<rect x="265.50" y="482.00" width="25.10" height="6.68" fill="#e5262a"/>
<rect x="290.00" y="482.00" width="25.10" height="6.68" fill="#6a73b6"/>
<rect x="314.50" y="482.00" width="24.50" height="6.68" fill="#f8d3d4"/>
<rect x="241.00" y="488.08" width="25.10" height="6.68" fill="#505faa"/>
<rect x="265.50" y="488.08" width="25.10" height="6.68" fill="#e5262a"/>
<rect x="290.00" y="488.08" width="25.10" height="6.68" fill="#6a73b6"/>
<rect x="314.50" y="488.08" width="24.50" height="6.68" fill="#f8d3d4"/>
<rect x="241.00" y="494.16" width="25.10" height="6.68" fill="#4557a5"/>
<rect x="265.50" y="494.16" width="25.10" height="6.68" fill="#e5262a"/>
<rect x="290.00" y="494.16" width="25.10" height="6.68" fill="#a4a6d3"/>
<rect x="314.50" y="494.16" width="24.50" height="6.68" fill="#ebebf5"/>
<rect x="241.00" y="500.24" width="25.10" height="6.68" fill="#4557a5"/>
<rect x="265.50" y="500.24" width="25.10" height="6.68" fill="#e5262a"/>
<rect x="290.00" y="500.24" width="25.10" height="6.68" fill="#9497cc"/>
<rect x="314.50" y="500.24" width="24.50" height="6.68" fill="#fcecec"/>
<rect x="241.00" y="506.32" width="25.10" height="6.68" fill="#3e52a2"/>
<rect x="265.50" y="506.32" width="25.10" height="6.68" fill="#e62c30"/>
<rect x="290.00" y="506.32" width="25.10" height="6.68" fill="#f8d3d4"/>
<rect x="314.50" y="506.32" width="24.50" height="6.68" fill="#8488c4"/>
<rect x="241.00" y="512.40" width="25.10" height="6.68" fill="#2f4e9f"/>
<rect x="265.50" y="512.40" width="25.10" height="6.68" fill="#e63639"/>
<rect x="290.00" y="512.40" width="25.10" height="6.68" fill="#ffffff"/>
<rect x="314.50" y="512.40" width="24.50" height="6.68" fill="#d5d6eb"/>
<rect x="241.00" y="518.48" width="25.10" height="6.68" fill="#2f4e9f"/>
<rect x="265.50" y="518.48" width="25.10" height="6.68" fill="#e63639"/>
<rect x="290.00" y="518.48" width="25.10" height="6.68" fill="#fcecec"/>
<rect x="314.50" y="518.48" width="24.50" height="6.68" fill="#ebebf5"/>
<rect x="241.00" y="524.56" width="25.10" height="6.68" fill="#2f4e9f"/>
<rect x="265.50" y="524.56" width="25.10" height="6.68" fill="#e63639"/>
<rect x="290.00" y="524.56" width="25.10" height="6.68" fill="#f8d3d4"/>
<rect x="314.50" y="524.56" width="24.50" height="6.68" fill="#d5d6eb"/>
<rect x="241.00" y="530.64" width="25.10" height="6.68" fill="#9c9fcf"/>
<rect x="265.50" y="530.64" width="25.10" height="6.68" fill="#e73c3f"/>
<rect x="290.00" y="530.64" width="25.10" height="6.68" fill="#f2a5a6"/>
<rect x="314.50" y="530.64" width="24.50" height="6.68" fill="#204a9c"/>
<rect x="241.00" y="536.72" width="25.10" height="6.68" fill="#6a73b6"/>
<rect x="265.50" y="536.72" width="25.10" height="6.68" fill="#ea5e61"/>
<rect x="290.00" y="536.72" width="25.10" height="6.68" fill="#ea585a"/>
<rect x="314.50" y="536.72" width="24.50" height="6.68" fill="#3e52a2"/>
<rect x="241.00" y="542.80" width="25.10" height="6.68" fill="#3e52a2"/>
<rect x="265.50" y="542.80" width="25.10" height="6.68" fill="#f8d3d4"/>
<rect x="290.00" y="542.80" width="25.10" height="6.68" fill="#e62c30"/>
<rect x="314.50" y="542.80" width="24.50" height="6.68" fill="#8488c4"/>
<rect x="241.00" y="548.88" width="25.10" height="6.68" fill="#2f4e9f"/>
<rect x="265.50" y="548.88" width="25.10" height="6.68" fill="#f2a5a6"/>
<rect x="290.00" y="548.88" width="25.10" height="6.68" fill="#e84648"/>
<rect x="314.50" y="548.88" width="24.50" height="6.68" fill="#b4b6da"/>
<rect x="241.00" y="554.96" width="25.10" height="6.68" fill="#204a9c"/>
<rect x="265.50" y="554.96" width="25.10" height="6.68" fill="#ec7174"/>
<rect x="290.00" y="554.96" width="25.10" height="6.68" fill="#f8d3d4"/>
<rect x="314.50" y="554.96" width="24.50" height="6.68" fill="#ee898b"/>
<rect x="241.00" y="561.04" width="25.10" height="6.68" fill="#204a9c"/>
<rect x="265.50" y="561.04" width="25.10" height="6.68" fill="#f9dada"/>
<rect x="290.00" y="561.04" width="25.10" height="6.68" fill="#f8d3d4"/>
<rect x="314.50" y="561.04" width="24.50" height="6.68" fill="#e73c3f"/>
<rect x="241.00" y="567.12" width="25.10" height="6.68" fill="#204a9c"/>
<rect x="265.50" y="567.12" width="25.10" height="6.68" fill="#fdf0f0"/>
<rect x="290.00" y="567.12" width="25.10" height="6.68" fill="#f8d3d4"/>
<rect x="314.50" y="567.12" width="24.50" height="6.68" fill="#e73c3f"/>
<rect x="241.00" y="573.20" width="25.10" height="6.68" fill="#204a9c"/>
<rect x="265.50" y="573.20" width="25.10" height="6.68" fill="#fdf0f0"/>
<rect x="290.00" y="573.20" width="25.10" height="6.68" fill="#f3adae"/>
<rect x="314.50" y="573.20" width="24.50" height="6.68" fill="#ea5e61"/>
<rect x="241.00" y="579.28" width="25.10" height="6.68" fill="#204a9c"/>
<rect x="265.50" y="579.28" width="25.10" height="6.68" fill="#ffffff"/>
<rect x="290.00" y="579.28" width="25.10" height="6.68" fill="#f6c0c0"/>
<rect x="314.50" y="579.28" width="24.50" height="6.68" fill="#e84648"/>
<rect x="241.00" y="585.36" width="25.10" height="6.68" fill="#204a9c"/>
<rect x="265.50" y="585.36" width="25.10" height="6.68" fill="#eeeef7"/>
<rect x="290.00" y="585.36" width="25.10" height="6.68" fill="#f7caca"/>
<rect x="314.50" y="585.36" width="24.50" height="6.68" fill="#e84648"/>
<rect x="241.00" y="591.44" width="25.10" height="6.68" fill="#2f4e9f"/>
<rect x="265.50" y="591.44" width="25.10" height="6.68" fill="#e4e5f2"/>
<rect x="290.00" y="591.44" width="25.10" height="6.68" fill="#e4e5f2"/>
<rect x="314.50" y="591.44" width="24.50" height="6.68" fill="#e4181e"/>
<rect x="241.00" y="597.52" width="25.10" height="6.68" fill="#3e52a2"/>
<rect x="265.50" y="597.52" width="25.10" height="6.68" fill="#c8cae4"/>
<rect x="290.00" y="597.52" width="25.10" height="6.68" fill="#e4e5f2"/>
<rect x="314.50" y="597.52" width="24.50" height="6.68" fill="#e4181e"/>
<rect x="241.00" y="603.60" width="25.10" height="6.68" fill="#3e52a2"/>
<rect x="265.50" y="603.60" width="25.10" height="6.68" fill="#f5f5fa"/>
<rect x="290.00" y="603.60" width="25.10" height="6.68" fill="#a4a6d3"/>
<rect x="314.50" y="603.60" width="24.50" height="6.68" fill="#e4181e"/>
<rect x="241.00" y="609.68" width="25.10" height="6.68" fill="#4557a5"/>
<rect x="265.50" y="609.68" width="25.10" height="6.68" fill="#e4e5f2"/>
<rect x="290.00" y="609.68" width="25.10" height="6.68" fill="#9c9fcf"/>
<rect x="314.50" y="609.68" width="24.50" height="6.68" fill="#e4181e"/>
<rect x="241.00" y="615.76" width="25.10" height="6.68" fill="#626cb2"/>
<rect x="265.50" y="615.76" width="25.10" height="6.68" fill="#dddeef"/>
<rect x="290.00" y="615.76" width="25.10" height="6.68" fill="#9c9fcf"/>
<rect x="314.50" y="615.76" width="24.50" height="6.68" fill="#e4181e"/>
<rect x="241.00" y="621.84" width="25.10" height="6.68" fill="#626cb2"/>
<rect x="265.50" y="621.84" width="25.10" height="6.68" fill="#d5d6eb"/>
<rect x="290.00" y="621.84" width="25.10" height="6.68" fill="#9c9fcf"/>
<rect x="314.50" y="621.84" width="24.50" height="6.68" fill="#e4181e"/>
<rect x="241.00" y="627.92" width="25.10" height="6.68" fill="#d5d6eb"/>
<rect x="265.50" y="627.92" width="25.10" height="6.68" fill="#3550a0"/>
<rect x="290.00" y="627.92" width="25.10" height="6.68" fill="#e4e5f2"/>
<rect x="314.50" y="627.92" width="24.50" height="6.68" fill="#e4181e"/>
<rect x="241.00" y="634.00" width="25.10" height="6.68" fill="#c4c6e2"/>
<rect x="265.50" y="634.00" width="25.10" height="6.68" fill="#3e52a2"/>
<rect x="290.00" y="634.00" width="25.10" height="6.68" fill="#f5f5fa"/>
<rect x="314.50" y="634.00" width="24.50" height="6.68" fill="#e4181e"/>
<rect x="241.00" y="640.08" width="25.10" height="6.68" fill="#a4a6d3"/>
<rect x="265.50" y="640.08" width="25.10" height="6.68" fill="#505faa"/>
<rect x="290.00" y="640.08" width="25.10" height="6.68" fill="#eeeef7"/>
<rect x="314.50" y="640.08" width="24.50" height="6.68" fill="#e4181e"/>
<rect x="241.00" y="646.16" width="25.10" height="6.68" fill="#8c8fc8"/>
<rect x="265.50" y="646.16" width="25.10" height="6.68" fill="#505faa"/>
<rect x="290.00" y="646.16" width="25.10" height="6.68" fill="#ffffff"/>
<rect x="314.50" y="646.16" width="24.50" height="6.68" fill="#e4181e"/>
<rect x="241.00" y="652.24" width="25.10" height="6.68" fill="#8c8fc8"/>
<rect x="265.50" y="652.24" width="25.10" height="6.68" fill="#8488c4"/>
<rect x="290.00" y="652.24" width="25.10" height="6.68" fill="#bcbede"/>
<rect x="314.50" y="652.24" width="24.50" height="6.68" fill="#e4181e"/>
<rect x="241.00" y="658.32" width="25.10" height="6.68" fill="#737abb"/>
<rect x="265.50" y="658.32" width="25.10" height="6.68" fill="#8488c4"/>
<rect x="290.00" y="658.32" width="25.10" height="6.68" fill="#e4e5f2"/>
<rect x="314.50" y="658.32" width="24.50" height="6.68" fill="#e4181e"/>
<rect x="241.00" y="664.40" width="25.10" height="6.68" fill="#737abb"/>
<rect x="265.50" y="664.40" width="25.10" height="6.68" fill="#8488c4"/>
<rect x="290.00" y="664.40" width="25.10" height="6.68" fill="#e4e5f2"/>
<rect x="314.50" y="664.40" width="24.50" height="6.68" fill="#e4181e"/>
<rect x="241.00" y="670.48" width="25.10" height="6.68" fill="#9c9fcf"/>
<rect x="265.50" y="670.48" width="25.10" height="6.68" fill="#264c9d"/>
<rect x="290.00" y="670.48" width="25.10" height="6.68" fill="#f3adae"/>
<rect x="314.50" y="670.48" width="24.50" height="6.68" fill="#e73c3f"/>
<rect x="241.00" y="676.56" width="25.10" height="6.68" fill="#8488c4"/>
<rect x="265.50" y="676.56" width="25.10" height="6.68" fill="#3550a0"/>
<rect x="290.00" y="676.56" width="25.10" height="6.68" fill="#f0999b"/>
<rect x="314.50" y="676.56" width="24.50" height="6.68" fill="#e73c3f"/>
<rect x="241.00" y="682.64" width="25.10" height="6.68" fill="#505faa"/>
<rect x="265.50" y="682.64" width="25.10" height="6.68" fill="#4557a5"/>
<rect x="290.00" y="682.64" width="25.10" height="6.68" fill="#f1a1a3"/>
<rect x="314.50" y="682.64" width="24.50" height="6.68" fill="#e63639"/>
<rect x="241.00" y="688.72" width="25.10" height="6.68" fill="#505faa"/>
<rect x="265.50" y="688.72" width="25.10" height="6.68" fill="#4557a5"/>
<rect x="290.00" y="688.72" width="25.10" height="6.68" fill="#ee898b"/>
<rect x="314.50" y="688.72" width="24.50" height="6.68" fill="#e73c3f"/>
<rect x="241.00" y="694.80" width="25.10" height="6.68" fill="#264c9d"/>
<rect x="265.50" y="694.80" width="25.10" height="6.68" fill="#a4a6d3"/>
<rect x="290.00" y="694.80" width="25.10" height="6.68" fill="#fae1e1"/>
<rect x="314.50" y="694.80" width="24.50" height="6.68" fill="#e5262a"/>
<rect x="241.00" y="700.88" width="25.10" height="6.68" fill="#264c9d"/>
<rect x="265.50" y="700.88" width="25.10" height="6.68" fill="#9497cc"/>
<rect x="290.00" y="700.88" width="25.10" height="6.68" fill="#f1a1a3"/>
<rect x="314.50" y="700.88" width="24.50" height="6.68" fill="#e63639"/>
<rect x="241.00" y="706.96" width="25.10" height="6.68" fill="#264c9d"/>
<rect x="265.50" y="706.96" width="25.10" height="6.68" fill="#9c9fcf"/>
<rect x="290.00" y="706.96" width="25.10" height="6.68" fill="#f5b9ba"/>
<rect x="314.50" y="706.96" width="24.50" height="6.68" fill="#e63639"/>
<rect x="241.00" y="713.04" width="25.10" height="6.68" fill="#2f4e9f"/>
<rect x="265.50" y="713.04" width="25.10" height="6.68" fill="#9497cc"/>
<rect x="290.00" y="713.04" width="25.10" height="6.68" fill="#f5b9ba"/>
<rect x="314.50" y="713.04" width="24.50" height="6.68" fill="#e63639"/>
<rect x="241.00" y="719.12" width="25.10" height="6.68" fill="#3550a0"/>
<rect x="265.50" y="719.12" width="25.10" height="6.68" fill="#737abb"/>
<rect x="290.00" y="719.12" width="25.10" height="6.68" fill="#f1a1a3"/>
<rect x="314.50" y="719.12" width="24.50" height="6.68" fill="#e73c3f"/>
<rect x="241.00" y="725.20" width="25.10" height="6.68" fill="#3550a0"/>
<rect x="265.50" y="725.20" width="25.10" height="6.68" fill="#737abb"/>
<rect x="290.00" y="725.20" width="25.10" height="6.68" fill="#f5b9ba"/>
<rect x="314.50" y="725.20" width="24.50" height="6.68" fill="#e73c3f"/>
<rect x="241.00" y="731.28" width="25.10" height="6.68" fill="#3550a0"/>
<rect x="265.50" y="731.28" width="25.10" height="6.68" fill="#737abb"/>
<rect x="290.00" y="731.28" width="25.10" height="6.68" fill="#f5b9ba"/>
<rect x="314.50" y="731.28" width="24.50" height="6.68" fill="#e73c3f"/>
<rect x="241.00" y="737.36" width="25.10" height="6.68" fill="#d5d6eb"/>
<rect x="265.50" y="737.36" width="25.10" height="6.68" fill="#b4b6da"/>
<rect x="290.00" y="737.36" width="25.10" height="6.68" fill="#e4181e"/>
<rect x="314.50" y="737.36" width="24.50" height="6.68" fill="#505faa"/>
<rect x="241.00" y="743.44" width="25.10" height="6.68" fill="#a4a6d3"/>
<rect x="265.50" y="743.44" width="25.10" height="6.68" fill="#8488c4"/>
<rect x="290.00" y="743.44" width="25.10" height="6.68" fill="#e4181e"/>
<rect x="314.50" y="743.44" width="24.50" height="6.68" fill="#acaed6"/>
<rect x="241.00" y="749.52" width="25.10" height="6.68" fill="#a4a6d3"/>
<rect x="265.50" y="749.52" width="25.10" height="6.68" fill="#8488c4"/>
<rect x="290.00" y="749.52" width="25.10" height="6.68" fill="#e4181e"/>
<rect x="314.50" y="749.52" width="24.50" height="6.68" fill="#acaed6"/>
<rect x="241.00" y="755.60" width="25.10" height="6.68" fill="#626cb2"/>
<rect x="265.50" y="755.60" width="25.10" height="6.68" fill="#ebebf5"/>
<rect x="290.00" y="755.60" width="25.10" height="6.68" fill="#e4181e"/>
<rect x="314.50" y="755.60" width="24.50" height="6.68" fill="#8488c4"/>
<rect x="241.00" y="761.68" width="25.10" height="6.68" fill="#3e52a2"/>
<rect x="265.50" y="761.68" width="25.10" height="6.68" fill="#ffffff"/>
<rect x="290.00" y="761.68" width="25.10" height="6.68" fill="#e4181e"/>
<rect x="314.50" y="761.68" width="24.50" height="6.68" fill="#a4a6d3"/>
<rect x="241.00" y="767.76" width="25.10" height="6.68" fill="#5b67af"/>
<rect x="265.50" y="767.76" width="25.10" height="6.68" fill="#c4c6e2"/>
<rect x="290.00" y="767.76" width="25.10" height="6.68" fill="#e4181e"/>
<rect x="314.50" y="767.76" width="24.50" height="6.68" fill="#b4b6da"/>
<rect x="241.00" y="773.84" width="25.10" height="6.68" fill="#8488c4"/>
<rect x="265.50" y="773.84" width="25.10" height="6.68" fill="#8488c4"/>
<rect x="290.00" y="773.84" width="25.10" height="6.68" fill="#e4181e"/>
<rect x="314.50" y="773.84" width="24.50" height="6.68" fill="#c4c6e2"/>
<rect x="241.00" y="779.92" width="25.10" height="6.68" fill="#6a73b6"/>
<rect x="265.50" y="779.92" width="25.10" height="6.68" fill="#8c8fc8"/>
<rect x="290.00" y="779.92" width="25.10" height="6.68" fill="#e4181e"/>
<rect x="314.50" y="779.92" width="24.50" height="6.68" fill="#ebebf5"/>
<rect x="241.00" y="786.00" width="25.10" height="6.68" fill="#3e52a2"/>
<rect x="265.50" y="786.00" width="25.10" height="6.68" fill="#b4b6da"/>
<rect x="290.00" y="786.00" width="25.10" height="6.68" fill="#e4181e"/>
<rect x="314.50" y="786.00" width="24.50" height="6.68" fill="#eeeef7"/>
<rect x="241.00" y="792.08" width="25.10" height="6.68" fill="#ebebf5"/>
<rect x="265.50" y="792.08" width="25.10" height="6.68" fill="#204a9c"/>
<rect x="290.00" y="792.08" width="25.10" height="6.68" fill="#e73c3f"/>
<rect x="314.50" y="792.08" width="24.50" height="6.68" fill="#f5b9ba"/>
<rect x="241.00" y="798.16" width="25.10" height="6.68" fill="#d5d6eb"/>
<rect x="265.50" y="798.16" width="25.10" height="6.68" fill="#204a9c"/>
<rect x="290.00" y="798.16" width="25.10" height="6.68" fill="#ea585a"/>
<rect x="314.50" y="798.16" width="24.50" height="6.68" fill="#ec7174"/>
<rect x="241.00" y="804.24" width="25.10" height="6.68" fill="#8488c4"/>
<rect x="265.50" y="804.24" width="25.10" height="6.68" fill="#3e52a2"/>
<rect x="290.00" y="804.24" width="25.10" height="6.68" fill="#e5262a"/>
<rect x="314.50" y="804.24" width="24.50" height="6.68" fill="#f7caca"/>
<rect x="241.00" y="810.32" width="25.10" height="6.68" fill="#9c9fcf"/>
<rect x="265.50" y="810.32" width="25.10" height="6.68" fill="#3e52a2"/>
<rect x="290.00" y="810.32" width="25.10" height="6.68" fill="#e5262a"/>
<rect x="314.50" y="810.32" width="24.50" height="6.68" fill="#fbe9e9"/>
<rect x="241.00" y="816.40" width="25.10" height="6.68" fill="#8488c4"/>
<rect x="265.50" y="816.40" width="25.10" height="6.68" fill="#3e52a2"/>
<rect x="290.00" y="816.40" width="25.10" height="6.68" fill="#e5262a"/>
<rect x="314.50" y="816.40" width="24.50" height="6.68" fill="#fbe9e9"/>
<rect x="241.00" y="822.48" width="25.10" height="6.68" fill="#264c9d"/>
<rect x="265.50" y="822.48" width="25.10" height="6.68" fill="#a0a2d1"/>
<rect x="290.00" y="822.48" width="25.10" height="6.68" fill="#e62c30"/>
<rect x="314.50" y="822.48" width="24.50" height="6.68" fill="#f7caca"/>
<rect x="241.00" y="828.56" width="25.10" height="6.68" fill="#505faa"/>
<rect x="265.50" y="828.56" width="25.10" height="6.68" fill="#5764ad"/>
<rect x="290.00" y="828.56" width="25.10" height="6.68" fill="#e62c30"/>
<rect x="314.50" y="828.56" width="24.50" height="6.68" fill="#f7caca"/>
<rect x="241.00" y="834.64" width="25.10" height="6.68" fill="#4c5ca8"/>
<rect x="265.50" y="834.64" width="25.10" height="6.68" fill="#5b67af"/>
<rect x="290.00" y="834.64" width="25.10" height="6.68" fill="#e5262a"/>
<rect x="314.50" y="834.64" width="24.50" height="6.68" fill="#f9dada"/>
<rect x="241.00" y="840.72" width="25.10" height="6.68" fill="#5764ad"/>
<rect x="265.50" y="840.72" width="25.10" height="6.68" fill="#6a73b6"/>
<rect x="290.00" y="840.72" width="25.10" height="6.68" fill="#e5262a"/>
<rect x="314.50" y="840.72" width="24.50" height="6.68" fill="#f9dada"/>
<rect x="241.00" y="846.80" width="25.10" height="6.68" fill="#4c5ca8"/>
<rect x="265.50" y="846.80" width="25.10" height="6.68" fill="#6a73b6"/>
<rect x="290.00" y="846.80" width="25.10" height="6.68" fill="#e5262a"/>
<rect x="314.50" y="846.80" width="24.50" height="6.68" fill="#f9dada"/>
<rect x="241.00" y="852.88" width="25.10" height="6.68" fill="#4557a5"/>
<rect x="265.50" y="852.88" width="25.10" height="6.68" fill="#626cb2"/>
<rect x="290.00" y="852.88" width="25.10" height="6.68" fill="#e84648"/>
<rect x="314.50" y="852.88" width="24.50" height="6.68" fill="#ed797c"/>
<rect x="241.00" y="858.96" width="25.10" height="6.68" fill="#4557a5"/>
<rect x="265.50" y="858.96" width="25.10" height="6.68" fill="#4c5ca8"/>
<rect x="290.00" y="858.96" width="25.10" height="6.68" fill="#ea585a"/>
<rect x="314.50" y="858.96" width="24.50" height="6.68" fill="#ea585a"/>
<rect x="241.00" y="865.04" width="25.10" height="6.68" fill="#777ebd"/>
<rect x="265.50" y="865.04" width="25.10" height="6.68" fill="#3e52a2"/>
<rect x="290.00" y="865.04" width="25.10" height="6.68" fill="#e73c3f"/>
<rect x="314.50" y="865.04" width="24.50" height="6.68" fill="#ee898b"/>
<rect x="241.00" y="871.12" width="25.10" height="6.68" fill="#777ebd"/>
<rect x="265.50" y="871.12" width="25.10" height="6.68" fill="#3e52a2"/>
<rect x="290.00" y="871.12" width="25.10" height="6.68" fill="#e73c3f"/>
<rect x="314.50" y="871.12" width="24.50" height="6.68" fill="#ed797c"/>
<rect x="241.00" y="877.20" width="25.10" height="6.68" fill="#626cb2"/>
<rect x="265.50" y="877.20" width="25.10" height="6.68" fill="#4557a5"/>
<rect x="290.00" y="877.20" width="25.10" height="6.68" fill="#ea585a"/>
<rect x="314.50" y="877.20" width="24.50" height="6.68" fill="#eb696c"/>
<rect x="241.00" y="883.28" width="25.10" height="6.68" fill="#505faa"/>
<rect x="265.50" y="883.28" width="25.10" height="6.68" fill="#4557a5"/>
<rect x="290.00" y="883.28" width="25.10" height="6.68" fill="#ea585a"/>
<rect x="314.50" y="883.28" width="24.50" height="6.68" fill="#ea6265"/>
<rect x="241.00" y="889.36" width="25.10" height="6.68" fill="#204a9c"/>
<rect x="265.50" y="889.36" width="25.10" height="6.68" fill="#fdf4f4"/>
<rect x="290.00" y="889.36" width="25.10" height="6.68" fill="#e94d4f"/>
<rect x="314.50" y="889.36" width="24.50" height="6.68" fill="#f1a1a3"/>
<rect x="241.00" y="895.44" width="25.10" height="6.68" fill="#204a9c"/>
<rect x="265.50" y="895.44" width="25.10" height="6.68" fill="#ebebf5"/>
<rect x="290.00" y="895.44" width="25.10" height="6.68" fill="#e73c3f"/>
<rect x="314.50" y="895.44" width="24.50" height="6.68" fill="#f6c0c0"/>
<rect x="241.00" y="901.52" width="25.10" height="6.68" fill="#204a9c"/>
<rect x="265.50" y="901.52" width="25.10" height="6.68" fill="#c8cae4"/>
<rect x="290.00" y="901.52" width="25.10" height="6.68" fill="#ee898b"/>
<rect x="314.50" y="901.52" width="24.50" height="6.68" fill="#e94d4f"/>
<rect x="241.00" y="907.60" width="25.10" height="6.68" fill="#204a9c"/>
<rect x="265.50" y="907.60" width="25.10" height="6.68" fill="#bcbede"/>
<rect x="290.00" y="907.60" width="25.10" height="6.68" fill="#ec7174"/>
<rect x="314.50" y="907.60" width="24.50" height="6.68" fill="#e94d4f"/>
<rect x="241.00" y="913.68" width="25.10" height="6.68" fill="#204a9c"/>
<rect x="265.50" y="913.68" width="25.10" height="6.68" fill="#c4c6e2"/>
<rect x="290.00" y="913.68" width="25.10" height="6.68" fill="#ec7174"/>
<rect x="314.50" y="913.68" width="24.50" height="6.68" fill="#ea585a"/>
<rect x="241.00" y="919.76" width="25.10" height="6.68" fill="#204a9c"/>
<rect x="265.50" y="919.76" width="25.10" height="6.68" fill="#c4c6e2"/>
<rect x="290.00" y="919.76" width="25.10" height="6.68" fill="#ed797c"/>
<rect x="314.50" y="919.76" width="24.50" height="6.68" fill="#ea5e61"/>
<rect x="241.00" y="925.84" width="25.10" height="6.68" fill="#204a9c"/>
<rect x="265.50" y="925.84" width="25.10" height="6.68" fill="#d5d6eb"/>
<rect x="290.00" y="925.84" width="25.10" height="6.68" fill="#e94d4f"/>
<rect x="314.50" y="925.84" width="24.50" height="6.68" fill="#f0999b"/>
<rect x="241.00" y="931.92" width="25.10" height="6.68" fill="#204a9c"/>
<rect x="265.50" y="931.92" width="25.10" height="6.68" fill="#e4e5f2"/>
<rect x="290.00" y="931.92" width="25.10" height="6.68" fill="#ea5e61"/>
<rect x="314.50" y="931.92" width="24.50" height="6.68" fill="#f0999b"/>
<rect x="241.00" y="938.00" width="25.10" height="6.68" fill="#204a9c"/>
<rect x="265.50" y="938.00" width="25.10" height="6.68" fill="#e4e5f2"/>
<rect x="290.00" y="938.00" width="25.10" height="6.68" fill="#ea5e61"/>
<rect x="314.50" y="938.00" width="24.50" height="6.68" fill="#ee898b"/>
<rect x="241.00" y="944.08" width="25.10" height="6.68" fill="#264c9d"/>
<rect x="265.50" y="944.08" width="25.10" height="6.68" fill="#9c9fcf"/>
<rect x="290.00" y="944.08" width="25.10" height="6.68" fill="#ea585a"/>
<rect x="314.50" y="944.08" width="24.50" height="6.68" fill="#ed797c"/>
<rect x="241.00" y="950.16" width="25.10" height="6.68" fill="#204a9c"/>
<rect x="265.50" y="950.16" width="25.10" height="6.68" fill="#c4c6e2"/>
<rect x="290.00" y="950.16" width="25.10" height="6.68" fill="#ea5e61"/>
<rect x="314.50" y="950.16" width="24.50" height="6.68" fill="#ed7d80"/>
<rect x="241.00" y="956.24" width="25.10" height="6.68" fill="#204a9c"/>
<rect x="265.50" y="956.24" width="25.10" height="6.68" fill="#d5d6eb"/>
<rect x="290.00" y="956.24" width="25.10" height="6.68" fill="#ea5e61"/>
<rect x="314.50" y="956.24" width="24.50" height="6.68" fill="#ed797c"/>
<rect x="241.00" y="962.32" width="25.10" height="6.08" fill="#204a9c"/>
<rect x="265.50" y="962.32" width="25.10" height="6.08" fill="#b4b6da"/>
<rect x="290.00" y="962.32" width="25.10" height="6.08" fill="#ea5e61"/>
<rect x="314.50" y="962.32" width="24.50" height="6.08" fill="#ed797c"/>
<rect x="241.00" y="74.00" width="25.10" height="10.00" fill="#93bf22"/>
<rect x="265.50" y="74.00" width="25.10" height="10.00" fill="#4bbac6"/>
<rect x="290.00" y="74.00" width="25.10" height="10.00" fill="#c098c9"/>
<rect x="314.50" y="74.00" width="24.50" height="10.00" fill="#f08a80"/>
<text x="341.70" y="92.45" font-size="6.15" fill="#000" stroke="#000" stroke-width="0.14">MRPS31</text>
<text x="341.70" y="98.53" font-size="6.15" fill="#000" stroke="#000" stroke-width="0.14">MARS2</text>
<text x="341.70" y="104.61" font-size="6.15" fill="#000" stroke="#000" stroke-width="0.14">MRPS34</text>
<text x="341.70" y="110.69" font-size="6.15" fill="#000" stroke="#000" stroke-width="0.14">NDUFB11</text>
<text x="341.70" y="116.77" font-size="6.15" fill="#000" stroke="#000" stroke-width="0.14">COX8A1</text>
<text x="341.70" y="122.85" font-size="6.15" fill="#000" stroke="#000" stroke-width="0.14">TOMM6</text>
<text x="341.70" y="128.93" font-size="6.15" fill="#000" stroke="#000" stroke-width="0.14">MRPL2</text>
<text x="341.70" y="135.01" font-size="6.15" fill="#000" stroke="#000" stroke-width="0.14">TFB2M</text>
<text x="341.70" y="141.09" font-size="6.15" fill="#000" stroke="#000" stroke-width="0.14">COA3</text>
<text x="341.70" y="147.17" font-size="6.15" fill="#000" stroke="#000" stroke-width="0.14">CLPX</text>
<text x="341.70" y="153.25" font-size="6.15" fill="#000" stroke="#000" stroke-width="0.14">TIMM8B</text>
<text x="341.70" y="159.33" font-size="6.15" fill="#000" stroke="#000" stroke-width="0.14">MRPL17</text>
<text x="341.70" y="165.41" font-size="6.15" fill="#000" stroke="#000" stroke-width="0.14">MRPS12</text>
<text x="341.70" y="171.49" font-size="6.15" fill="#000" stroke="#000" stroke-width="0.14">DNAJC19</text>
<text x="341.70" y="177.57" font-size="6.15" fill="#000" stroke="#000" stroke-width="0.14">NFS1</text>
<text x="341.70" y="183.65" font-size="6.15" fill="#000" stroke="#000" stroke-width="0.14">MRPS6</text>
<text x="341.70" y="189.73" font-size="6.15" fill="#000" stroke="#000" stroke-width="0.14">AGMAT</text>
<text x="341.70" y="195.81" font-size="6.15" fill="#000" stroke="#000" stroke-width="0.14">WARS2</text>
<text x="341.70" y="201.89" font-size="6.15" fill="#000" stroke="#000" stroke-width="0.14">ATP5IF1</text>
<text x="341.70" y="207.97" font-size="6.15" fill="#000" stroke="#000" stroke-width="0.14">COQ5</text>
<text x="341.70" y="214.05" font-size="6.15" fill="#000" stroke="#000" stroke-width="0.14">ALDH6A1</text>
<text x="341.70" y="220.13" font-size="6.15" fill="#000" stroke="#000" stroke-width="0.14">TARS2</text>
<text x="341.70" y="226.21" font-size="6.15" fill="#000" stroke="#000" stroke-width="0.14">RNF5</text>
<text x="341.70" y="232.29" font-size="6.15" fill="#000" stroke="#000" stroke-width="0.14">OPA1</text>
<text x="341.70" y="238.37" font-size="6.15" fill="#000" stroke="#000" stroke-width="0.14">MLYCD</text>
<text x="341.70" y="244.45" font-size="6.15" fill="#000" stroke="#000" stroke-width="0.14">COA4</text>
<text x="341.70" y="250.53" font-size="6.15" fill="#000" stroke="#000" stroke-width="0.14">MRPL47</text>
<text x="341.70" y="256.61" font-size="6.15" fill="#000" stroke="#000" stroke-width="0.14">GLRX5</text>
<text x="341.70" y="262.69" font-size="6.15" fill="#000" stroke="#000" stroke-width="0.14">MRPS18B</text>
<text x="341.70" y="268.77" font-size="6.15" fill="#000" stroke="#000" stroke-width="0.14">MRPL46</text>
<text x="341.70" y="274.85" font-size="6.15" fill="#000" stroke="#000" stroke-width="0.14">MRPL18</text>
<text x="341.70" y="280.93" font-size="6.15" fill="#000" stroke="#000" stroke-width="0.14">EARS2</text>
<text x="341.70" y="287.01" font-size="6.15" fill="#000" stroke="#000" stroke-width="0.14">ERAL1</text>
<text x="341.70" y="293.09" font-size="6.15" fill="#000" stroke="#000" stroke-width="0.14">NDUFB2</text>
<text x="341.70" y="299.17" font-size="6.15" fill="#000" stroke="#000" stroke-width="0.14">MRPL23</text>
<text x="341.70" y="305.25" font-size="6.15" fill="#000" stroke="#000" stroke-width="0.14">ETFDH</text>
<text x="341.70" y="311.33" font-size="6.15" fill="#000" stroke="#000" stroke-width="0.14">MRPL27</text>
<text x="341.70" y="317.41" font-size="6.15" fill="#000" stroke="#000" stroke-width="0.14">MRPL48</text>
<text x="341.70" y="323.49" font-size="6.15" fill="#000" stroke="#000" stroke-width="0.14">MRPL33</text>
<text x="341.70" y="329.57" font-size="6.15" fill="#000" stroke="#000" stroke-width="0.14">ATP5PB</text>
<text x="341.70" y="335.65" font-size="6.15" fill="#000" stroke="#000" stroke-width="0.14">SCO1</text>
<text x="341.70" y="341.73" font-size="6.15" fill="#000" stroke="#000" stroke-width="0.14">PDP1</text>
<text x="341.70" y="347.81" font-size="6.15" fill="#000" stroke="#000" stroke-width="0.14">SSBP1</text>
<text x="341.70" y="353.89" font-size="6.15" fill="#000" stroke="#000" stroke-width="0.14">MTARC2</text>
<text x="341.70" y="359.97" font-size="6.15" fill="#000" stroke="#000" stroke-width="0.14">ATPAF1</text>
<text x="341.70" y="366.05" font-size="6.15" fill="#000" stroke="#000" stroke-width="0.14">DHODH</text>
<text x="341.70" y="372.13" font-size="6.15" fill="#000" stroke="#000" stroke-width="0.14">PPIF</text>
<text x="341.70" y="378.21" font-size="6.15" fill="#000" stroke="#000" stroke-width="0.14">MTO1</text>
<text x="341.70" y="384.29" font-size="6.15" fill="#000" stroke="#000" stroke-width="0.14">AK3</text>
<text x="341.70" y="390.37" font-size="6.15" fill="#000" stroke="#000" stroke-width="0.14">COX4I1</text>
<text x="341.70" y="396.45" font-size="6.15" fill="#000" stroke="#000" stroke-width="0.14">MECR</text>
<text x="341.70" y="402.53" font-size="6.15" fill="#000" stroke="#000" stroke-width="0.14">MRPL28</text>
<text x="341.70" y="408.61" font-size="6.15" fill="#000" stroke="#000" stroke-width="0.14">TIMM13</text>
<text x="341.70" y="414.69" font-size="6.15" fill="#000" stroke="#000" stroke-width="0.14">TOMM40</text>
<text x="341.70" y="420.77" font-size="6.15" fill="#000" stroke="#000" stroke-width="0.14">MRPL32</text>
<text x="341.70" y="426.85" font-size="6.15" fill="#000" stroke="#000" stroke-width="0.14">MIPEP</text>
<text x="341.70" y="432.93" font-size="6.15" fill="#000" stroke="#000" stroke-width="0.14">MRPL57</text>
<text x="341.70" y="439.01" font-size="6.15" fill="#000" stroke="#000" stroke-width="0.14">BDH1</text>
<text x="341.70" y="445.09" font-size="6.15" fill="#000" stroke="#000" stroke-width="0.14">IVD</text>
<text x="341.70" y="451.17" font-size="6.15" fill="#000" stroke="#000" stroke-width="0.14">MRPL58</text>
<text x="341.70" y="457.25" font-size="6.15" fill="#000" stroke="#000" stroke-width="0.14">FECH</text>
<text x="341.70" y="463.33" font-size="6.15" fill="#000" stroke="#000" stroke-width="0.14">NDUFS7</text>
<text x="341.70" y="469.41" font-size="6.15" fill="#000" stroke="#000" stroke-width="0.14">MRPL45</text>
<text x="341.70" y="475.49" font-size="6.15" fill="#000" stroke="#000" stroke-width="0.14">MRPS28</text>
<text x="341.70" y="481.57" font-size="6.15" fill="#000" stroke="#000" stroke-width="0.14">PDK1</text>
<text x="341.70" y="487.65" font-size="6.15" fill="#000" stroke="#000" stroke-width="0.14">SDHD</text>
<text x="341.70" y="493.73" font-size="6.15" fill="#000" stroke="#000" stroke-width="0.14">GRPEL2</text>
<text x="341.70" y="499.81" font-size="6.15" fill="#000" stroke="#000" stroke-width="0.14">BCKDK</text>
<text x="341.70" y="505.89" font-size="6.15" fill="#000" stroke="#000" stroke-width="0.14">HIGD1A</text>
<text x="341.70" y="511.97" font-size="6.15" fill="#000" stroke="#000" stroke-width="0.14">CHCHD4</text>
<text x="341.70" y="518.05" font-size="6.15" fill="#000" stroke="#000" stroke-width="0.14">HARS2</text>
<text x="341.70" y="524.13" font-size="6.15" fill="#000" stroke="#000" stroke-width="0.14">NLN</text>
<text x="341.70" y="530.21" font-size="6.15" fill="#000" stroke="#000" stroke-width="0.14">MGME1</text>
<text x="341.70" y="536.29" font-size="6.15" fill="#000" stroke="#000" stroke-width="0.14">NDUFS6</text>
<text x="341.70" y="542.37" font-size="6.15" fill="#000" stroke="#000" stroke-width="0.14">IDH2</text>
<text x="341.70" y="548.45" font-size="6.15" fill="#000" stroke="#000" stroke-width="0.14">TSFM</text>
<text x="341.70" y="554.53" font-size="6.15" fill="#000" stroke="#000" stroke-width="0.14">TRMU</text>
<text x="341.70" y="560.61" font-size="6.15" fill="#000" stroke="#000" stroke-width="0.14">MRPL20</text>
<text x="341.70" y="566.69" font-size="6.15" fill="#000" stroke="#000" stroke-width="0.14">MRPL41</text>
<text x="341.70" y="572.77" font-size="6.15" fill="#000" stroke="#000" stroke-width="0.14">MPC2</text>
<text x="341.70" y="578.85" font-size="6.15" fill="#000" stroke="#000" stroke-width="0.14">MRPL40</text>
<text x="341.70" y="584.93" font-size="6.15" fill="#000" stroke="#000" stroke-width="0.14">MCCC2</text>
<text x="341.70" y="591.01" font-size="6.15" fill="#000" stroke="#000" stroke-width="0.14">ATP5MJ</text>
<text x="341.70" y="597.09" font-size="6.15" fill="#000" stroke="#000" stroke-width="0.14">MRPS18C</text>
<text x="341.70" y="603.17" font-size="6.15" fill="#000" stroke="#000" stroke-width="0.14">MDH2</text>
<text x="341.70" y="609.25" font-size="6.15" fill="#000" stroke="#000" stroke-width="0.14">OXA1L</text>
<text x="341.70" y="615.33" font-size="6.15" fill="#000" stroke="#000" stroke-width="0.14">TMEM11</text>
<text x="341.70" y="621.41" font-size="6.15" fill="#000" stroke="#000" stroke-width="0.14">AKAP1</text>
<text x="341.70" y="627.49" font-size="6.15" fill="#000" stroke="#000" stroke-width="0.14">MICU1</text>
<text x="341.70" y="633.57" font-size="6.15" fill="#000" stroke="#000" stroke-width="0.14">PGAM5</text>
<text x="341.70" y="639.65" font-size="6.15" fill="#000" stroke="#000" stroke-width="0.14">COX20</text>
<text x="341.70" y="645.73" font-size="6.15" fill="#000" stroke="#000" stroke-width="0.14">DARS2</text>
<text x="341.70" y="651.81" font-size="6.15" fill="#000" stroke="#000" stroke-width="0.14">BCAT2</text>
<text x="341.70" y="657.89" font-size="6.15" fill="#000" stroke="#000" stroke-width="0.14">TIMM17B</text>
<text x="341.70" y="663.97" font-size="6.15" fill="#000" stroke="#000" stroke-width="0.14">SUPV3L1</text>
<text x="341.70" y="670.05" font-size="6.15" fill="#000" stroke="#000" stroke-width="0.14">MRPL13</text>
<text x="341.70" y="676.13" font-size="6.15" fill="#000" stroke="#000" stroke-width="0.14">MRPL39</text>
<text x="341.70" y="682.21" font-size="6.15" fill="#000" stroke="#000" stroke-width="0.14">MCU</text>
<text x="341.70" y="688.29" font-size="6.15" fill="#000" stroke="#000" stroke-width="0.14">DECR1</text>
<text x="341.70" y="694.37" font-size="6.15" fill="#000" stroke="#000" stroke-width="0.14">MCAT</text>
<text x="341.70" y="700.45" font-size="6.15" fill="#000" stroke="#000" stroke-width="0.14">HINT2</text>
<text x="341.70" y="706.53" font-size="6.15" fill="#000" stroke="#000" stroke-width="0.14">MRPL50</text>
<text x="341.70" y="712.61" font-size="6.15" fill="#000" stroke="#000" stroke-width="0.14">TIMM23</text>
<text x="341.70" y="718.69" font-size="6.15" fill="#000" stroke="#000" stroke-width="0.14">ME2</text>
<text x="341.70" y="724.77" font-size="6.15" fill="#000" stroke="#000" stroke-width="0.14">BCKDHB</text>
<text x="341.70" y="730.85" font-size="6.15" fill="#000" stroke="#000" stroke-width="0.14">TIMM22</text>
<text x="341.70" y="736.93" font-size="6.15" fill="#000" stroke="#000" stroke-width="0.14">PPA2</text>
<text x="341.70" y="743.01" font-size="6.15" fill="#000" stroke="#000" stroke-width="0.14">ACSF3</text>
<text x="341.70" y="749.09" font-size="6.15" fill="#000" stroke="#000" stroke-width="0.14">OXSM</text>
<text x="341.70" y="755.17" font-size="6.15" fill="#000" stroke="#000" stroke-width="0.14">FASTKD2</text>
<text x="341.70" y="761.25" font-size="6.15" fill="#000" stroke="#000" stroke-width="0.14">MCCC1</text>
<text x="341.70" y="767.33" font-size="6.15" fill="#000" stroke="#000" stroke-width="0.14">MRM3</text>
<text x="341.70" y="773.41" font-size="6.15" fill="#000" stroke="#000" stroke-width="0.14">DNAJA3</text>
<text x="341.70" y="779.49" font-size="6.15" fill="#000" stroke="#000" stroke-width="0.14">FPGS</text>
<text x="341.70" y="785.57" font-size="6.15" fill="#000" stroke="#000" stroke-width="0.14">DBT</text>
<text x="341.70" y="791.65" font-size="6.15" fill="#000" stroke="#000" stroke-width="0.14">CPOX</text>
<text x="341.70" y="797.73" font-size="6.15" fill="#000" stroke="#000" stroke-width="0.14">PDHX</text>
<text x="341.70" y="803.81" font-size="6.15" fill="#000" stroke="#000" stroke-width="0.14">MRPS36</text>
<text x="341.70" y="809.89" font-size="6.15" fill="#000" stroke="#000" stroke-width="0.14">MAIP1</text>
<text x="341.70" y="815.97" font-size="6.15" fill="#000" stroke="#000" stroke-width="0.14">TXN2</text>
<text x="341.70" y="822.05" font-size="6.15" fill="#000" stroke="#000" stroke-width="0.14">NFU1</text>
<text x="341.70" y="828.13" font-size="6.15" fill="#000" stroke="#000" stroke-width="0.14">GSR</text>
<text x="341.70" y="834.21" font-size="6.15" fill="#000" stroke="#000" stroke-width="0.14">ACADSB</text>
<text x="341.70" y="840.29" font-size="6.15" fill="#000" stroke="#000" stroke-width="0.14">YRDC</text>
<text x="341.70" y="846.37" font-size="6.15" fill="#000" stroke="#000" stroke-width="0.14">COQ9</text>
<text x="341.70" y="852.45" font-size="6.15" fill="#000" stroke="#000" stroke-width="0.14">MTPAP</text>
<text x="341.70" y="858.53" font-size="6.15" fill="#000" stroke="#000" stroke-width="0.14">BCS1L</text>
<text x="341.70" y="864.61" font-size="6.15" fill="#000" stroke="#000" stroke-width="0.14">FDXR</text>
<text x="341.70" y="870.69" font-size="6.15" fill="#000" stroke="#000" stroke-width="0.14">MRPL11</text>
<text x="341.70" y="876.77" font-size="6.15" fill="#000" stroke="#000" stroke-width="0.14">MRPS21</text>
<text x="341.70" y="882.85" font-size="6.15" fill="#000" stroke="#000" stroke-width="0.14">COX7A2</text>
<text x="341.70" y="888.93" font-size="6.15" fill="#000" stroke="#000" stroke-width="0.14">MRPL21</text>
<text x="341.70" y="895.01" font-size="6.15" fill="#000" stroke="#000" stroke-width="0.14">PMPCB</text>
<text x="341.70" y="901.09" font-size="6.15" fill="#000" stroke="#000" stroke-width="0.14">NDUFA10</text>
<text x="341.70" y="907.17" font-size="6.15" fill="#000" stroke="#000" stroke-width="0.14">MRPS7</text>
<text x="341.70" y="913.25" font-size="6.15" fill="#000" stroke="#000" stroke-width="0.14">DIABLO</text>
<text x="341.70" y="919.33" font-size="6.15" fill="#000" stroke="#000" stroke-width="0.14">ACO2</text>
<text x="341.70" y="925.41" font-size="6.15" fill="#000" stroke="#000" stroke-width="0.14">TOMM22</text>
<text x="341.70" y="931.49" font-size="6.15" fill="#000" stroke="#000" stroke-width="0.14">ME3</text>
<text x="341.70" y="937.57" font-size="6.15" fill="#000" stroke="#000" stroke-width="0.14">MRPL10</text>
<text x="341.70" y="943.65" font-size="6.15" fill="#000" stroke="#000" stroke-width="0.14">MRPL24</text>
<text x="341.70" y="949.73" font-size="6.15" fill="#000" stroke="#000" stroke-width="0.14">HIGD2A</text>
<text x="341.70" y="955.81" font-size="6.15" fill="#000" stroke="#000" stroke-width="0.14">AARS2</text>
<text x="341.70" y="961.89" font-size="6.15" fill="#000" stroke="#000" stroke-width="0.14">NDUFS1</text>
<text x="341.70" y="967.97" font-size="6.15" fill="#000" stroke="#000" stroke-width="0.14">MRPL12</text>
<path d="M239.47 89.84L239.47 95.92 M239.47 89.84L241.00 89.84 M239.47 95.92L241.00 95.92 M237.47 92.88L237.47 102.00 M237.47 92.88L239.47 92.88 M237.47 102.00L241.00 102.00 M239.90 108.08L239.90 114.16 M239.90 108.08L241.00 108.08 M239.90 114.16L241.00 114.16 M238.55 111.12L238.55 120.24 M238.55 111.12L239.90 111.12 M238.55 120.24L241.00 120.24 M234.58 97.44L234.58 115.68 M234.58 97.44L237.47 97.44 M234.58 115.68L238.55 115.68 M236.10 126.32L236.10 132.40 M236.10 126.32L241.00 126.32 M236.10 132.40L241.00 132.40 M238.35 138.48L238.35 144.56 M238.35 138.48L241.00 138.48 M238.35 144.56L241.00 144.56 M230.43 129.36L230.43 141.52 M230.43 129.36L236.10 129.36 M230.43 141.52L238.35 141.52 M226.67 106.56L226.67 135.44 M226.67 106.56L234.58 106.56 M226.67 135.44L230.43 135.44 M238.70 150.64L238.70 156.72 M238.70 150.64L241.00 150.64 M238.70 156.72L241.00 156.72 M237.99 162.80L237.99 168.88 M237.99 162.80L241.00 162.80 M237.99 168.88L241.00 168.88 M236.06 153.68L236.06 165.84 M236.06 153.68L238.70 153.68 M236.06 165.84L237.99 165.84 M235.50 174.96L235.50 181.04 M235.50 174.96L241.00 174.96 M235.50 181.04L241.00 181.04 M232.13 159.76L232.13 178.00 M232.13 159.76L236.06 159.76 M232.13 178.00L235.50 178.00 M239.01 187.12L239.01 193.20 M239.01 187.12L241.00 187.12 M239.01 193.20L241.00 193.20 M238.63 190.16L238.63 199.28 M238.63 190.16L239.01 190.16 M238.63 199.28L241.00 199.28 M222.72 168.88L222.72 194.72 M222.72 168.88L232.13 168.88 M222.72 194.72L238.63 194.72 M214.12 121.00L214.12 181.80 M214.12 121.00L226.67 121.00 M214.12 181.80L222.72 181.80 M236.88 205.36L236.88 211.44 M236.88 205.36L241.00 205.36 M236.88 211.44L241.00 211.44 M238.89 217.52L238.89 223.60 M238.89 217.52L241.00 217.52 M238.89 223.60L241.00 223.60 M235.71 220.56L235.71 229.68 M235.71 220.56L238.89 220.56 M235.71 229.68L241.00 229.68 M230.33 208.40L230.33 225.12 M230.33 208.40L236.88 208.40 M230.33 225.12L235.71 225.12 M235.89 235.76L235.89 241.84 M235.89 235.76L241.00 235.76 M235.89 241.84L241.00 241.84 M226.56 216.76L226.56 238.80 M226.56 216.76L230.33 216.76 M226.56 238.80L235.89 238.80 M209.74 151.40L209.74 227.78 M209.74 151.40L214.12 151.40 M209.74 227.78L226.56 227.78 M238.67 247.92L238.67 254.00 M238.67 247.92L241.00 247.92 M238.67 254.00L241.00 254.00 M236.50 250.96L236.50 260.08 M236.50 250.96L238.67 250.96 M236.50 260.08L241.00 260.08 M238.07 266.16L238.07 272.24 M238.07 266.16L241.00 266.16 M238.07 272.24L241.00 272.24 M232.47 269.20L232.47 278.32 M232.47 269.20L238.07 269.20 M232.47 278.32L241.00 278.32 M231.16 255.52L231.16 273.76 M231.16 255.52L236.50 255.52 M231.16 273.76L232.47 273.76 M240.34 290.48L240.34 296.56 M240.34 290.48L241.00 290.48 M240.34 296.56L241.00 296.56 M238.72 284.40L238.72 293.52 M238.72 284.40L241.00 284.40 M238.72 293.52L240.34 293.52 M237.57 302.64L237.57 308.72 M237.57 302.64L241.00 302.64 M237.57 308.72L241.00 308.72 M232.52 288.96L232.52 305.68 M232.52 288.96L238.72 288.96 M232.52 305.68L237.57 305.68 M221.19 264.64L221.19 297.32 M221.19 264.64L231.16 264.64 M221.19 297.32L232.52 297.32 M240.34 314.80L240.34 320.88 M240.34 314.80L241.00 314.80 M240.34 320.88L241.00 320.88 M236.27 317.84L236.27 326.96 M236.27 317.84L240.34 317.84 M236.27 326.96L241.00 326.96 M238.93 333.04L238.93 339.12 M238.93 333.04L241.00 333.04 M238.93 339.12L241.00 339.12 M231.88 322.40L231.88 336.08 M231.88 322.40L236.27 322.40 M231.88 336.08L238.93 336.08 M236.15 345.20L236.15 351.28 M236.15 345.20L241.00 345.20 M236.15 351.28L241.00 351.28 M233.55 348.24L233.55 357.36 M233.55 348.24L236.15 348.24 M233.55 357.36L241.00 357.36 M236.46 369.52L236.46 375.60 M236.46 369.52L241.00 369.52 M236.46 375.60L241.00 375.60 M231.87 363.44L231.87 372.56 M231.87 363.44L241.00 363.44 M231.87 372.56L236.46 372.56 M224.05 352.80L224.05 368.00 M224.05 352.80L233.55 352.80 M224.05 368.00L231.87 368.00 M217.40 329.24L217.40 360.40 M217.40 329.24L231.88 329.24 M217.40 360.40L224.05 360.40 M235.77 381.68L235.77 387.76 M235.77 381.68L241.00 381.68 M235.77 387.76L241.00 387.76 M238.01 393.84L238.01 399.92 M238.01 393.84L241.00 393.84 M238.01 399.92L241.00 399.92 M232.69 384.72L232.69 396.88 M232.69 384.72L235.77 384.72 M232.69 396.88L238.01 396.88 M237.20 406.00L237.20 412.08 M237.20 406.00L241.00 406.00 M237.20 412.08L241.00 412.08 M240.56 424.24L240.56 430.32 M240.56 424.24L241.00 424.24 M240.56 430.32L241.00 430.32 M238.93 418.16L238.93 427.28 M238.93 418.16L241.00 418.16 M238.93 427.28L240.56 427.28 M240.56 442.48L240.56 448.56 M240.56 442.48L241.00 442.48 M240.56 448.56L241.00 448.56 M240.12 436.40L240.12 445.52 M240.12 436.40L241.00 436.40 M240.12 445.52L240.56 445.52 M235.57 422.72L235.57 440.96 M235.57 422.72L238.93 422.72 M235.57 440.96L240.12 440.96 M233.46 409.04L233.46 431.84 M233.46 409.04L237.20 409.04 M233.46 431.84L235.57 431.84 M227.89 390.80L227.89 420.44 M227.89 390.80L232.69 390.80 M227.89 420.44L233.46 420.44 M211.43 344.82L211.43 405.62 M211.43 344.82L217.40 344.82 M211.43 405.62L227.89 405.62 M205.68 280.98L205.68 375.22 M205.68 280.98L221.19 280.98 M205.68 375.22L211.43 375.22 M240.56 454.64L240.56 460.72 M240.56 454.64L241.00 454.64 M240.56 460.72L241.00 460.72 M240.21 457.68L240.21 466.80 M240.21 457.68L240.56 457.68 M240.21 466.80L241.00 466.80 M239.03 462.24L239.03 472.88 M239.03 462.24L240.21 462.24 M239.03 472.88L241.00 472.88 M235.95 467.56L235.95 478.96 M235.95 467.56L239.03 467.56 M235.95 478.96L241.00 478.96 M240.98 485.04L240.98 491.12 M240.98 485.04L241.00 485.04 M240.98 491.12L241.00 491.12 M238.43 497.20L238.43 503.28 M238.43 497.20L241.00 497.20 M238.43 503.28L241.00 503.28 M235.96 488.08L235.96 500.24 M235.96 488.08L240.98 488.08 M235.96 500.24L238.43 500.24 M228.59 473.26L228.59 494.16 M228.59 473.26L235.95 473.26 M228.59 494.16L235.96 494.16 M239.29 515.44L239.29 521.52 M239.29 515.44L241.00 515.44 M239.29 521.52L241.00 521.52 M238.37 518.48L238.37 527.60 M238.37 518.48L239.29 518.48 M238.37 527.60L241.00 527.60 M234.96 509.36L234.96 523.04 M234.96 509.36L241.00 509.36 M234.96 523.04L238.37 523.04 M226.35 483.71L226.35 516.20 M226.35 483.71L228.59 483.71 M226.35 516.20L234.96 516.20 M235.02 533.68L235.02 539.76 M235.02 533.68L241.00 533.68 M235.02 539.76L241.00 539.76 M236.60 545.84L236.60 551.92 M236.60 545.84L241.00 545.84 M236.60 551.92L241.00 551.92 M226.91 536.72L226.91 548.88 M226.91 536.72L235.02 536.72 M226.91 548.88L236.60 548.88 M215.54 499.96L215.54 542.80 M215.54 499.96L226.35 499.96 M215.54 542.80L226.91 542.80 M239.68 564.08L239.68 570.16 M239.68 564.08L241.00 564.08 M239.68 570.16L241.00 570.16 M239.72 582.32L239.72 588.40 M239.72 582.32L241.00 582.32 M239.72 588.40L241.00 588.40 M237.95 576.24L237.95 585.36 M237.95 576.24L241.00 576.24 M237.95 585.36L239.72 585.36 M237.48 567.12L237.48 580.80 M237.48 567.12L239.68 567.12 M237.48 580.80L237.95 580.80 M230.76 558.00L230.76 573.96 M230.76 558.00L241.00 558.00 M230.76 573.96L237.48 573.96 M239.11 594.48L239.11 600.56 M239.11 594.48L241.00 594.48 M239.11 600.56L241.00 600.56 M239.74 606.64L239.74 612.72 M239.74 606.64L241.00 606.64 M239.74 612.72L241.00 612.72 M240.56 618.80L240.56 624.88 M240.56 618.80L241.00 618.80 M240.56 624.88L241.00 624.88 M238.02 609.68L238.02 621.84 M238.02 609.68L239.74 609.68 M238.02 621.84L240.56 621.84 M235.79 597.52L235.79 615.76 M235.79 597.52L239.11 597.52 M235.79 615.76L238.02 615.76 M224.84 565.98L224.84 606.64 M224.84 565.98L230.76 565.98 M224.84 606.64L235.79 606.64 M239.45 630.96L239.45 637.04 M239.45 630.96L241.00 630.96 M239.45 637.04L241.00 637.04 M239.29 643.12L239.29 649.20 M239.29 643.12L241.00 643.12 M239.29 649.20L241.00 649.20 M236.34 634.00L236.34 646.16 M236.34 634.00L239.45 634.00 M236.34 646.16L239.29 646.16 M240.98 661.36L240.98 667.44 M240.98 661.36L241.00 661.36 M240.98 667.44L241.00 667.44 M238.44 655.28L238.44 664.40 M238.44 655.28L241.00 655.28 M238.44 664.40L240.98 664.40 M234.01 640.08L234.01 659.84 M234.01 640.08L236.34 640.08 M234.01 659.84L238.44 659.84 M238.97 673.52L238.97 679.60 M238.97 673.52L241.00 673.52 M238.97 679.60L241.00 679.60 M239.61 685.68L239.61 691.76 M239.61 685.68L241.00 685.68 M239.61 691.76L241.00 691.76 M235.90 676.56L235.90 688.72 M235.90 676.56L238.97 676.56 M235.90 688.72L239.61 688.72 M240.21 710.00L240.21 716.08 M240.21 710.00L241.00 710.00 M240.21 716.08L241.00 716.08 M239.53 703.92L239.53 713.04 M239.53 703.92L241.00 703.92 M239.53 713.04L240.21 713.04 M240.98 728.24L240.98 734.32 M240.98 728.24L241.00 728.24 M240.98 734.32L241.00 734.32 M239.68 722.16L239.68 731.28 M239.68 722.16L241.00 722.16 M239.68 731.28L240.98 731.28 M238.18 708.48L238.18 726.72 M238.18 708.48L239.53 708.48 M238.18 726.72L239.68 726.72 M235.90 697.84L235.90 717.60 M235.90 697.84L241.00 697.84 M235.90 717.60L238.18 717.60 M230.14 682.64L230.14 707.72 M230.14 682.64L235.90 682.64 M230.14 707.72L235.90 707.72 M227.14 649.96L227.14 695.18 M227.14 649.96L234.01 649.96 M227.14 695.18L230.14 695.18 M216.91 586.31L216.91 672.57 M216.91 586.31L224.84 586.31 M216.91 672.57L227.14 672.57 M240.98 746.48L240.98 752.56 M240.98 746.48L241.00 746.48 M240.98 752.56L241.00 752.56 M234.73 740.40L234.73 749.52 M234.73 740.40L241.00 740.40 M234.73 749.52L240.98 749.52 M237.90 758.64L237.90 764.72 M237.90 758.64L241.00 758.64 M237.90 764.72L241.00 764.72 M236.98 761.68L236.98 770.80 M236.98 761.68L237.90 761.68 M236.98 770.80L241.00 770.80 M238.41 776.88L238.41 782.96 M238.41 776.88L241.00 776.88 M238.41 782.96L241.00 782.96 M235.68 779.92L235.68 789.04 M235.68 779.92L238.41 779.92 M235.68 789.04L241.00 789.04 M232.76 766.24L232.76 784.48 M232.76 766.24L236.98 766.24 M232.76 784.48L235.68 784.48 M228.90 744.96L228.90 775.36 M228.90 744.96L234.73 744.96 M228.90 775.36L232.76 775.36 M236.48 795.12L236.48 801.20 M236.48 795.12L241.00 795.12 M236.48 801.20L241.00 801.20 M239.68 813.36L239.68 819.44 M239.68 813.36L241.00 813.36 M239.68 819.44L241.00 819.44 M238.63 807.28L238.63 816.40 M238.63 807.28L241.00 807.28 M238.63 816.40L239.68 816.40 M231.83 798.16L231.83 811.84 M231.83 798.16L236.48 798.16 M231.83 811.84L238.63 811.84 M240.34 843.76L240.34 849.84 M240.34 843.76L241.00 843.76 M240.34 849.84L241.00 849.84 M239.90 837.68L239.90 846.80 M239.90 837.68L241.00 837.68 M239.90 846.80L240.34 846.80 M239.33 831.60L239.33 842.24 M239.33 831.60L241.00 831.60 M239.33 842.24L239.90 842.24 M236.13 825.52L236.13 836.92 M236.13 825.52L241.00 825.52 M236.13 836.92L239.33 836.92 M238.39 855.92L238.39 862.00 M238.39 855.92L241.00 855.92 M238.39 862.00L241.00 862.00 M240.12 868.08L240.12 874.16 M240.12 868.08L241.00 868.08 M240.12 874.16L241.00 874.16 M239.82 880.24L239.82 886.32 M239.82 880.24L241.00 880.24 M239.82 886.32L241.00 886.32 M237.41 871.12L237.41 883.28 M237.41 871.12L240.12 871.12 M237.41 883.28L239.82 883.28 M236.52 858.96L236.52 877.20 M236.52 858.96L238.39 858.96 M236.52 877.20L237.41 877.20 M232.10 831.22L232.10 868.08 M232.10 831.22L236.13 831.22 M232.10 868.08L236.52 868.08 M238.14 892.40L238.14 898.48 M238.14 892.40L241.00 892.40 M238.14 898.48L241.00 898.48 M240.38 916.72L240.38 922.80 M240.38 916.72L241.00 916.72 M240.38 922.80L241.00 922.80 M239.74 910.64L239.74 919.76 M239.74 910.64L241.00 910.64 M239.74 919.76L240.38 919.76 M239.51 904.56L239.51 915.20 M239.51 904.56L241.00 904.56 M239.51 915.20L239.74 915.20 M240.12 934.96L240.12 941.04 M240.12 934.96L241.00 934.96 M240.12 941.04L241.00 941.04 M239.34 928.88L239.34 938.00 M239.34 928.88L241.00 928.88 M239.34 938.00L240.12 938.00 M240.10 953.20L240.10 959.28 M240.10 953.20L241.00 953.20 M240.10 959.28L241.00 959.28 M239.25 956.24L239.25 965.36 M239.25 956.24L240.10 956.24 M239.25 965.36L241.00 965.36 M237.87 947.12L237.87 960.80 M237.87 947.12L241.00 947.12 M237.87 960.80L239.25 960.80 M236.64 933.44L236.64 953.96 M236.64 933.44L239.34 933.44 M236.64 953.96L237.87 953.96 M235.35 909.88L235.35 943.70 M235.35 909.88L239.51 909.88 M235.35 943.70L236.64 943.70 M232.73 895.44L232.73 926.79 M232.73 895.44L238.14 895.44 M232.73 926.79L235.35 926.79 M227.92 849.65L227.92 911.12 M227.92 849.65L232.10 849.65 M227.92 911.12L232.73 911.12 M222.73 805.00L222.73 880.38 M222.73 805.00L231.83 805.00 M222.73 880.38L227.92 880.38 M216.91 760.16L216.91 842.69 M216.91 760.16L228.90 760.16 M216.91 842.69L222.73 842.69 M208.61 629.44L208.61 801.43 M208.61 629.44L216.91 629.44 M208.61 801.43L216.91 801.43 M204.21 521.38L204.21 715.43 M204.21 521.38L215.54 521.38 M204.21 715.43L208.61 715.43 M201.44 328.10L201.44 618.41 M201.44 328.10L205.68 328.10 M201.44 618.41L204.21 618.41 M200.50 189.59L200.50 473.25 M200.50 189.59L209.74 189.59 M200.50 473.25L201.44 473.25" stroke="#3a3a3a" stroke-width="0.9" fill="none"/>
<path d="M253.25 73.60L253.25 39.90 M277.75 73.60L277.75 39.90 M253.25 39.90L277.75 39.90 M302.25 73.60L302.25 37.20 M326.75 73.60L326.75 37.20 M302.25 37.20L326.75 37.20 M265.50 39.90L265.50 30.40 M314.50 37.20L314.50 30.40 M265.50 30.40L314.50 30.40" stroke="#3a3a3a" stroke-width="0.9" fill="none"/>
<text x="342" y="82.9" font-size="9.3" fill="#222">Group</text>
<rect x="423.00" y="85.00" width="25.55" height="22.08" fill="#e62c30"/>
<rect x="447.95" y="85.00" width="25.55" height="22.08" fill="#fcecec"/>
<rect x="472.90" y="85.00" width="25.55" height="22.08" fill="#f1f2f9"/>
<rect x="497.85" y="85.00" width="24.95" height="22.08" fill="#2c4d9e"/>
<rect x="423.00" y="106.48" width="25.55" height="22.08" fill="#e62c30"/>
<rect x="447.95" y="106.48" width="25.55" height="22.08" fill="#f1f2f9"/>
<rect x="472.90" y="106.48" width="25.55" height="22.08" fill="#fcecec"/>
<rect x="497.85" y="106.48" width="24.95" height="22.08" fill="#2c4d9e"/>
<rect x="423.00" y="127.96" width="25.55" height="22.08" fill="#e94d4f"/>
<rect x="447.95" y="127.96" width="25.55" height="22.08" fill="#f8d3d4"/>
<rect x="472.90" y="127.96" width="25.55" height="22.08" fill="#f8d3d4"/>
<rect x="497.85" y="127.96" width="24.95" height="22.08" fill="#204a9c"/>
<rect x="423.00" y="149.44" width="25.55" height="22.08" fill="#e94d4f"/>
<rect x="447.95" y="149.44" width="25.55" height="22.08" fill="#fefbfb"/>
<rect x="472.90" y="149.44" width="25.55" height="22.08" fill="#f7c6c7"/>
<rect x="497.85" y="149.44" width="24.95" height="22.08" fill="#204a9c"/>
<rect x="423.00" y="170.92" width="25.55" height="22.08" fill="#ec7174"/>
<rect x="447.95" y="170.92" width="25.55" height="22.08" fill="#ed797c"/>
<rect x="472.90" y="170.92" width="25.55" height="22.08" fill="#e4e5f2"/>
<rect x="497.85" y="170.92" width="24.95" height="22.08" fill="#204a9c"/>
<rect x="423.00" y="192.40" width="25.55" height="22.08" fill="#f0999b"/>
<rect x="447.95" y="192.40" width="25.55" height="22.08" fill="#f1a1a3"/>
<rect x="472.90" y="192.40" width="25.55" height="22.08" fill="#f6c0c0"/>
<rect x="497.85" y="192.40" width="24.95" height="22.08" fill="#1e489b"/>
<rect x="423.00" y="213.88" width="25.55" height="22.08" fill="#ea5e61"/>
<rect x="447.95" y="213.88" width="25.55" height="22.08" fill="#e0e1f1"/>
<rect x="472.90" y="213.88" width="25.55" height="22.08" fill="#f0999b"/>
<rect x="497.85" y="213.88" width="24.95" height="22.08" fill="#204a9c"/>
<rect x="423.00" y="235.36" width="25.55" height="22.08" fill="#f6c0c0"/>
<rect x="447.95" y="235.36" width="25.55" height="22.08" fill="#fadede"/>
<rect x="472.90" y="235.36" width="25.55" height="22.08" fill="#ea5e61"/>
<rect x="497.85" y="235.36" width="24.95" height="22.08" fill="#204a9c"/>
<rect x="423.00" y="256.84" width="25.55" height="22.08" fill="#ffffff"/>
<rect x="447.95" y="256.84" width="25.55" height="22.08" fill="#e5262a"/>
<rect x="472.90" y="256.84" width="25.55" height="22.08" fill="#e4e5f2"/>
<rect x="497.85" y="256.84" width="24.95" height="22.08" fill="#3550a0"/>
<rect x="423.00" y="278.32" width="25.55" height="22.08" fill="#d5d6eb"/>
<rect x="447.95" y="278.32" width="25.55" height="22.08" fill="#e5262a"/>
<rect x="472.90" y="278.32" width="25.55" height="22.08" fill="#fdf0f0"/>
<rect x="497.85" y="278.32" width="24.95" height="22.08" fill="#3550a0"/>
<rect x="423.00" y="299.80" width="25.55" height="22.08" fill="#8488c4"/>
<rect x="447.95" y="299.80" width="25.55" height="22.08" fill="#e73c3f"/>
<rect x="472.90" y="299.80" width="25.55" height="22.08" fill="#ef9193"/>
<rect x="497.85" y="299.80" width="24.95" height="22.08" fill="#2f4e9f"/>
<rect x="423.00" y="321.28" width="25.55" height="22.08" fill="#e84648"/>
<rect x="447.95" y="321.28" width="25.55" height="22.08" fill="#eb696c"/>
<rect x="472.90" y="321.28" width="25.55" height="22.08" fill="#8488c4"/>
<rect x="497.85" y="321.28" width="24.95" height="22.08" fill="#2f4e9f"/>
<rect x="423.00" y="342.76" width="25.55" height="22.08" fill="#e84648"/>
<rect x="447.95" y="342.76" width="25.55" height="22.08" fill="#eb696c"/>
<rect x="472.90" y="342.76" width="25.55" height="22.08" fill="#7f84c1"/>
<rect x="497.85" y="342.76" width="24.95" height="22.08" fill="#3550a0"/>
<rect x="423.00" y="364.24" width="25.55" height="22.08" fill="#ea585a"/>
<rect x="447.95" y="364.24" width="25.55" height="22.08" fill="#ea585a"/>
<rect x="472.90" y="364.24" width="25.55" height="22.08" fill="#6a73b6"/>
<rect x="497.85" y="364.24" width="24.95" height="22.08" fill="#3550a0"/>
<rect x="423.00" y="385.72" width="25.55" height="22.08" fill="#e84648"/>
<rect x="447.95" y="385.72" width="25.55" height="22.08" fill="#ec7174"/>
<rect x="472.90" y="385.72" width="25.55" height="22.08" fill="#5764ad"/>
<rect x="497.85" y="385.72" width="24.95" height="22.08" fill="#495aa7"/>
<rect x="423.00" y="407.20" width="25.55" height="22.08" fill="#e95053"/>
<rect x="447.95" y="407.20" width="25.55" height="22.08" fill="#eb696c"/>
<rect x="472.90" y="407.20" width="25.55" height="22.08" fill="#264c9d"/>
<rect x="497.85" y="407.20" width="24.95" height="22.08" fill="#8c8fc8"/>
<rect x="423.00" y="428.68" width="25.55" height="22.08" fill="#f3adae"/>
<rect x="447.95" y="428.68" width="25.55" height="22.08" fill="#e63639"/>
<rect x="472.90" y="428.68" width="25.55" height="22.08" fill="#495aa7"/>
<rect x="497.85" y="428.68" width="24.95" height="22.08" fill="#626cb2"/>
<rect x="423.00" y="450.16" width="25.55" height="22.08" fill="#e4e5f2"/>
<rect x="447.95" y="450.16" width="25.55" height="22.08" fill="#e41e23"/>
<rect x="472.90" y="450.16" width="25.55" height="22.08" fill="#3850a1"/>
<rect x="497.85" y="450.16" width="24.95" height="22.08" fill="#d1d2e9"/>
<rect x="423.00" y="471.64" width="25.55" height="22.08" fill="#e63639"/>
<rect x="447.95" y="471.64" width="25.55" height="22.08" fill="#f0999b"/>
<rect x="472.90" y="471.64" width="25.55" height="22.08" fill="#8488c4"/>
<rect x="497.85" y="471.64" width="24.95" height="22.08" fill="#3850a1"/>
<rect x="423.00" y="493.12" width="25.55" height="22.08" fill="#e5262a"/>
<rect x="447.95" y="493.12" width="25.55" height="22.08" fill="#f7c6c7"/>
<rect x="472.90" y="493.12" width="25.55" height="22.08" fill="#8488c4"/>
<rect x="497.85" y="493.12" width="24.95" height="22.08" fill="#4557a5"/>
<rect x="423.00" y="514.60" width="25.55" height="22.08" fill="#e5262a"/>
<rect x="447.95" y="514.60" width="25.55" height="22.08" fill="#f9dada"/>
<rect x="472.90" y="514.60" width="25.55" height="22.08" fill="#b4b6da"/>
<rect x="497.85" y="514.60" width="24.95" height="22.08" fill="#2f4e9f"/>
<rect x="423.00" y="536.08" width="25.55" height="22.08" fill="#e5262a"/>
<rect x="447.95" y="536.08" width="25.55" height="22.08" fill="#f6c0c0"/>
<rect x="472.90" y="536.08" width="25.55" height="22.08" fill="#4c5ca8"/>
<rect x="497.85" y="536.08" width="24.95" height="22.08" fill="#777ebd"/>
<rect x="423.00" y="557.56" width="25.55" height="22.08" fill="#e4181e"/>
<rect x="447.95" y="557.56" width="25.55" height="22.08" fill="#fcfcfd"/>
<rect x="472.90" y="557.56" width="25.55" height="22.08" fill="#7b81bf"/>
<rect x="497.85" y="557.56" width="24.95" height="22.08" fill="#6a73b6"/>
<rect x="423.00" y="579.04" width="25.55" height="22.08" fill="#e52025"/>
<rect x="447.95" y="579.04" width="25.55" height="22.08" fill="#f1f2f9"/>
<rect x="472.90" y="579.04" width="25.55" height="22.08" fill="#264c9d"/>
<rect x="497.85" y="579.04" width="24.95" height="22.08" fill="#f1f2f9"/>
<rect x="423.00" y="600.52" width="25.55" height="22.08" fill="#e63639"/>
<rect x="447.95" y="600.52" width="25.55" height="22.08" fill="#3e52a2"/>
<rect x="472.90" y="600.52" width="25.55" height="22.08" fill="#f3adae"/>
<rect x="497.85" y="600.52" width="24.95" height="22.08" fill="#9497cc"/>
<rect x="423.00" y="622.00" width="25.55" height="22.08" fill="#f6c0c0"/>
<rect x="447.95" y="622.00" width="25.55" height="22.08" fill="#8c8fc8"/>
<rect x="472.90" y="622.00" width="25.55" height="22.08" fill="#4557a5"/>
<rect x="497.85" y="622.00" width="24.95" height="22.08" fill="#e5262a"/>
<rect x="423.00" y="643.48" width="25.55" height="22.08" fill="#fbe9e9"/>
<rect x="447.95" y="643.48" width="25.55" height="22.08" fill="#d1d2e9"/>
<rect x="472.90" y="643.48" width="25.55" height="22.08" fill="#2c4d9e"/>
<rect x="497.85" y="643.48" width="24.95" height="22.08" fill="#e5262a"/>
<rect x="423.00" y="664.96" width="25.55" height="22.08" fill="#acaed6"/>
<rect x="447.95" y="664.96" width="25.55" height="22.08" fill="#9497cc"/>
<rect x="472.90" y="664.96" width="25.55" height="22.08" fill="#a0a2d1"/>
<rect x="497.85" y="664.96" width="24.95" height="22.08" fill="#e4181e"/>
<rect x="423.00" y="686.44" width="25.55" height="22.08" fill="#9497cc"/>
<rect x="447.95" y="686.44" width="25.55" height="22.08" fill="#9497cc"/>
<rect x="472.90" y="686.44" width="25.55" height="22.08" fill="#b4b6da"/>
<rect x="497.85" y="686.44" width="24.95" height="22.08" fill="#e4181e"/>
<rect x="423.00" y="707.92" width="25.55" height="22.08" fill="#b4b6da"/>
<rect x="447.95" y="707.92" width="25.55" height="22.08" fill="#5b67af"/>
<rect x="472.90" y="707.92" width="25.55" height="22.08" fill="#e0e1f1"/>
<rect x="497.85" y="707.92" width="24.95" height="22.08" fill="#e4181e"/>
<rect x="423.00" y="729.40" width="25.55" height="22.08" fill="#8488c4"/>
<rect x="447.95" y="729.40" width="25.55" height="22.08" fill="#8488c4"/>
<rect x="472.90" y="729.40" width="25.55" height="22.08" fill="#eeeef7"/>
<rect x="497.85" y="729.40" width="24.95" height="22.08" fill="#e4181e"/>
<rect x="423.00" y="750.88" width="25.55" height="22.08" fill="#2f4e9f"/>
<rect x="447.95" y="750.88" width="25.55" height="22.08" fill="#e62c30"/>
<rect x="472.90" y="750.88" width="25.55" height="22.08" fill="#f8f8fc"/>
<rect x="497.85" y="750.88" width="24.95" height="22.08" fill="#f8f8fc"/>
<rect x="423.00" y="772.36" width="25.55" height="22.08" fill="#3550a0"/>
<rect x="447.95" y="772.36" width="25.55" height="22.08" fill="#e84648"/>
<rect x="472.90" y="772.36" width="25.55" height="22.08" fill="#7b81bf"/>
<rect x="497.85" y="772.36" width="24.95" height="22.08" fill="#ed797c"/>
<rect x="423.00" y="793.84" width="25.55" height="22.08" fill="#1e489b"/>
<rect x="447.95" y="793.84" width="25.55" height="22.08" fill="#ed8183"/>
<rect x="472.90" y="793.84" width="25.55" height="22.08" fill="#fdf0f0"/>
<rect x="497.85" y="793.84" width="24.95" height="22.08" fill="#ed8183"/>
<rect x="423.00" y="815.32" width="25.55" height="22.08" fill="#1e489b"/>
<rect x="447.95" y="815.32" width="25.55" height="22.08" fill="#f0999b"/>
<rect x="472.90" y="815.32" width="25.55" height="22.08" fill="#ebebf5"/>
<rect x="497.85" y="815.32" width="24.95" height="22.08" fill="#ea585a"/>
<rect x="423.00" y="836.80" width="25.55" height="22.08" fill="#626cb2"/>
<rect x="447.95" y="836.80" width="25.55" height="22.08" fill="#bcbede"/>
<rect x="472.90" y="836.80" width="25.55" height="22.08" fill="#e4181e"/>
<rect x="497.85" y="836.80" width="24.95" height="22.08" fill="#d1d2e9"/>
<rect x="423.00" y="858.28" width="25.55" height="22.08" fill="#bcbede"/>
<rect x="447.95" y="858.28" width="25.55" height="22.08" fill="#264c9d"/>
<rect x="472.90" y="858.28" width="25.55" height="22.08" fill="#f1a1a3"/>
<rect x="497.85" y="858.28" width="24.95" height="22.08" fill="#e73c3f"/>
<rect x="423.00" y="879.76" width="25.55" height="22.08" fill="#3e52a2"/>
<rect x="447.95" y="879.76" width="25.55" height="22.08" fill="#6f76b9"/>
<rect x="472.90" y="879.76" width="25.55" height="22.08" fill="#ed797c"/>
<rect x="497.85" y="879.76" width="24.95" height="22.08" fill="#e84648"/>
<rect x="423.00" y="901.24" width="25.55" height="22.08" fill="#3e52a2"/>
<rect x="447.95" y="901.24" width="25.55" height="22.08" fill="#acaed6"/>
<rect x="472.90" y="901.24" width="25.55" height="22.08" fill="#ffffff"/>
<rect x="497.85" y="901.24" width="24.95" height="22.08" fill="#e41e23"/>
<rect x="423.00" y="922.72" width="25.55" height="21.48" fill="#2f4e9f"/>
<rect x="447.95" y="922.72" width="25.55" height="21.48" fill="#a4a6d3"/>
<rect x="472.90" y="922.72" width="25.55" height="21.48" fill="#f6c3c4"/>
<rect x="497.85" y="922.72" width="24.95" height="21.48" fill="#e62c30"/>
<rect x="423.00" y="73.10" width="25.55" height="9.70" fill="#93bf22"/>
<rect x="447.95" y="73.10" width="25.55" height="9.70" fill="#4bbac6"/>
<rect x="472.90" y="73.10" width="25.55" height="9.70" fill="#f08a80"/>
<rect x="497.85" y="73.10" width="24.95" height="9.70" fill="#c098c9"/>
<text x="525.00" y="98.44" font-size="6.4" fill="#000" stroke="#000" stroke-width="0.14">RPL32</text>
<text x="525.00" y="119.92" font-size="6.4" fill="#000" stroke="#000" stroke-width="0.14">RPS4X</text>
<text x="525.00" y="141.40" font-size="6.4" fill="#000" stroke="#000" stroke-width="0.14">RPL37A</text>
<text x="525.00" y="162.88" font-size="6.4" fill="#000" stroke="#000" stroke-width="0.14">RPL34</text>
<text x="525.00" y="184.36" font-size="6.4" fill="#000" stroke="#000" stroke-width="0.14">RPS27A</text>
<text x="525.00" y="205.84" font-size="6.4" fill="#000" stroke="#000" stroke-width="0.14">CDKN2A</text>
<text x="525.00" y="227.32" font-size="6.4" fill="#000" stroke="#000" stroke-width="0.14">RPS21</text>
<text x="525.00" y="248.80" font-size="6.4" fill="#000" stroke="#000" stroke-width="0.14">RPS28</text>
<text x="525.00" y="270.28" font-size="6.4" fill="#000" stroke="#000" stroke-width="0.14">NMD3</text>
<text x="525.00" y="291.76" font-size="6.4" fill="#000" stroke="#000" stroke-width="0.14">RPS15</text>
<text x="525.00" y="313.24" font-size="6.4" fill="#000" stroke="#000" stroke-width="0.14">RPS18</text>
<text x="525.00" y="334.72" font-size="6.4" fill="#000" stroke="#000" stroke-width="0.14">RPL6</text>
<text x="525.00" y="356.20" font-size="6.4" fill="#000" stroke="#000" stroke-width="0.14">RPL31</text>
<text x="525.00" y="377.68" font-size="6.4" fill="#000" stroke="#000" stroke-width="0.14">RPL35</text>
<text x="525.00" y="399.16" font-size="6.4" fill="#000" stroke="#000" stroke-width="0.14">RPL18A</text>
<text x="525.00" y="420.64" font-size="6.4" fill="#000" stroke="#000" stroke-width="0.14">RPS27</text>
<text x="525.00" y="442.12" font-size="6.4" fill="#000" stroke="#000" stroke-width="0.14">RPL36A</text>
<text x="525.00" y="463.60" font-size="6.4" fill="#000" stroke="#000" stroke-width="0.14">RPS6KA1</text>
<text x="525.00" y="485.08" font-size="6.4" fill="#000" stroke="#000" stroke-width="0.14">RPL28</text>
<text x="525.00" y="506.56" font-size="6.4" fill="#000" stroke="#000" stroke-width="0.14">RPL35A</text>
<text x="525.00" y="528.04" font-size="6.4" fill="#000" stroke="#000" stroke-width="0.14">RPL13A</text>
<text x="525.00" y="549.52" font-size="6.4" fill="#000" stroke="#000" stroke-width="0.14">RPL19</text>
<text x="525.00" y="571.00" font-size="6.4" fill="#000" stroke="#000" stroke-width="0.14">RPL15</text>
<text x="525.00" y="592.48" font-size="6.4" fill="#000" stroke="#000" stroke-width="0.14">RPL14</text>
<text x="525.00" y="613.96" font-size="6.4" fill="#000" stroke="#000" stroke-width="0.14">RPL21</text>
<text x="525.00" y="635.44" font-size="6.4" fill="#000" stroke="#000" stroke-width="0.14">RPS6KA4</text>
<text x="525.00" y="656.92" font-size="6.4" fill="#000" stroke="#000" stroke-width="0.14">URB1</text>
<text x="525.00" y="678.40" font-size="6.4" fill="#000" stroke="#000" stroke-width="0.14">RRP1B</text>
<text x="525.00" y="699.88" font-size="6.4" fill="#000" stroke="#000" stroke-width="0.14">RPP25L</text>
<text x="525.00" y="721.36" font-size="6.4" fill="#000" stroke="#000" stroke-width="0.14">URB2</text>
<text x="525.00" y="742.84" font-size="6.4" fill="#000" stroke="#000" stroke-width="0.14">RPL26L1</text>
<text x="525.00" y="764.32" font-size="6.4" fill="#000" stroke="#000" stroke-width="0.14">RPL18</text>
<text x="525.00" y="785.80" font-size="6.4" fill="#000" stroke="#000" stroke-width="0.14">BMS1</text>
<text x="525.00" y="807.28" font-size="6.4" fill="#000" stroke="#000" stroke-width="0.14">RIOX2</text>
<text x="525.00" y="828.76" font-size="6.4" fill="#000" stroke="#000" stroke-width="0.14">RPL10L</text>
<text x="525.00" y="850.24" font-size="6.4" fill="#000" stroke="#000" stroke-width="0.14">TMPO</text>
<text x="525.00" y="871.72" font-size="6.4" fill="#000" stroke="#000" stroke-width="0.14">RPL39</text>
<text x="525.00" y="893.20" font-size="6.4" fill="#000" stroke="#000" stroke-width="0.14">RRP7A</text>
<text x="525.00" y="914.68" font-size="6.4" fill="#000" stroke="#000" stroke-width="0.14">RPL37</text>
<text x="525.00" y="936.16" font-size="6.4" fill="#000" stroke="#000" stroke-width="0.14">RPL29</text>
<path d="M420.00 95.74L420.00 117.22 M420.00 95.74L423.00 95.74 M420.00 117.22L423.00 117.22 M420.00 138.70L420.00 160.18 M420.00 138.70L423.00 138.70 M420.00 160.18L423.00 160.18 M416.90 106.48L416.90 149.44 M416.90 106.48L420.00 106.48 M416.90 149.44L420.00 149.44 M415.50 181.66L415.50 203.14 M415.50 181.66L423.00 181.66 M415.50 203.14L423.00 203.14 M411.50 127.96L411.50 192.40 M411.50 127.96L416.90 127.96 M411.50 192.40L415.50 192.40 M415.50 224.62L415.50 246.10 M415.50 224.62L423.00 224.62 M415.50 246.10L423.00 246.10 M408.30 160.18L408.30 235.36 M408.30 160.18L411.50 160.18 M408.30 235.36L415.50 235.36 M418.70 267.58L418.70 289.06 M418.70 267.58L423.00 267.58 M418.70 289.06L423.00 289.06 M411.50 278.32L411.50 310.54 M411.50 278.32L418.70 278.32 M411.50 310.54L423.00 310.54 M397.10 197.77L397.10 294.43 M397.10 197.77L408.30 197.77 M397.10 294.43L411.50 294.43 M422.50 332.02L422.50 353.50 M422.50 332.02L423.00 332.02 M422.50 353.50L423.00 353.50 M421.00 342.76L421.00 374.98 M421.00 342.76L422.50 342.76 M421.00 374.98L423.00 374.98 M420.00 358.87L420.00 396.46 M420.00 358.87L421.00 358.87 M420.00 396.46L423.00 396.46 M415.50 377.66L415.50 417.94 M415.50 377.66L420.00 377.66 M415.50 417.94L423.00 417.94 M413.70 397.80L413.70 439.42 M413.70 397.80L415.50 397.80 M413.70 439.42L423.00 439.42 M404.30 418.61L404.30 460.90 M404.30 418.61L413.70 418.61 M404.30 460.90L423.00 460.90 M391.20 246.10L391.20 439.76 M391.20 246.10L397.10 246.10 M391.20 439.76L404.30 439.76 M422.00 482.38L422.00 503.86 M422.00 482.38L423.00 482.38 M422.00 503.86L423.00 503.86 M418.30 493.12L418.30 525.34 M418.30 493.12L422.00 493.12 M418.30 525.34L423.00 525.34 M417.40 546.82L417.40 568.30 M417.40 546.82L423.00 546.82 M417.40 568.30L423.00 568.30 M414.20 509.23L414.20 557.56 M414.20 509.23L418.30 509.23 M414.20 557.56L417.40 557.56 M408.30 533.39L408.30 589.78 M408.30 533.39L414.20 533.39 M408.30 589.78L423.00 589.78 M399.30 561.59L399.30 611.26 M399.30 561.59L408.30 561.59 M399.30 611.26L423.00 611.26 M386.30 342.93L386.30 586.42 M386.30 342.93L391.20 342.93 M386.30 586.42L399.30 586.42 M417.40 632.74L417.40 654.22 M417.40 632.74L423.00 632.74 M417.40 654.22L423.00 654.22 M420.00 675.70L420.00 697.18 M420.00 675.70L423.00 675.70 M420.00 697.18L423.00 697.18 M418.70 718.66L418.70 740.14 M418.70 718.66L423.00 718.66 M418.70 740.14L423.00 740.14 M416.90 686.44L416.90 729.40 M416.90 686.44L420.00 686.44 M416.90 729.40L418.70 729.40 M406.50 643.48L406.50 707.92 M406.50 643.48L417.40 643.48 M406.50 707.92L416.90 707.92 M418.70 804.58L418.70 826.06 M418.70 804.58L423.00 804.58 M418.70 826.06L423.00 826.06 M412.40 783.10L412.40 815.32 M412.40 783.10L423.00 783.10 M412.40 815.32L418.70 815.32 M409.20 761.62L409.20 799.21 M409.20 761.62L423.00 761.62 M409.20 799.21L412.40 799.21 M418.00 911.98L418.00 933.46 M418.00 911.98L423.00 911.98 M418.00 933.46L423.00 933.46 M413.30 890.50L413.30 922.72 M413.30 890.50L423.00 890.50 M413.30 922.72L418.00 922.72 M410.00 869.02L410.00 906.61 M410.00 869.02L423.00 869.02 M410.00 906.61L413.30 906.61 M397.50 847.54L397.50 887.82 M397.50 847.54L423.00 847.54 M397.50 887.82L410.00 887.82 M389.40 780.41L389.40 867.68 M389.40 780.41L409.20 780.41 M389.40 867.68L397.50 867.68 M386.30 675.70L386.30 824.05 M386.30 675.70L406.50 675.70 M386.30 824.05L389.40 824.05 M382.20 464.68L382.20 749.87 M382.20 464.68L386.30 464.68 M382.20 749.87L386.30 749.87" stroke="#3a3a3a" stroke-width="0.9" fill="none"/>
<path d="M435.48 72.90L435.48 47.60 M460.43 72.90L460.43 47.60 M435.48 47.60L460.43 47.60 M485.38 72.90L485.38 44.40 M510.32 72.90L510.32 44.40 M485.38 44.40L510.32 44.40 M447.95 47.60L447.95 30.80 M497.85 44.40L497.85 30.80 M447.95 30.80L497.85 30.80" stroke="#3a3a3a" stroke-width="0.9" fill="none"/>
<text x="525.4" y="81.1" font-size="9.3" fill="#222">Group</text>
<defs><linearGradient id="cb" x1="0" y1="0" x2="0" y2="1">
<stop offset="0.0000" stop-color="#e5262a"/>
<stop offset="0.0417" stop-color="#e63639"/>
<stop offset="0.0833" stop-color="#e84648"/>
<stop offset="0.1250" stop-color="#ea585a"/>
<stop offset="0.1667" stop-color="#eb696c"/>
<stop offset="0.2083" stop-color="#ed7d80"/>
<stop offset="0.2500" stop-color="#ef9193"/>
<stop offset="0.2917" stop-color="#f2a5a6"/>
<stop offset="0.3333" stop-color="#f5b9ba"/>
<stop offset="0.3750" stop-color="#f7caca"/>
<stop offset="0.4167" stop-color="#f9dada"/>
<stop offset="0.4583" stop-color="#fcecec"/>
<stop offset="0.5000" stop-color="#ffffff"/>
<stop offset="0.5417" stop-color="#eeeef7"/>
<stop offset="0.5833" stop-color="#dddeef"/>
<stop offset="0.6250" stop-color="#c8cae4"/>
<stop offset="0.6667" stop-color="#b4b6da"/>
<stop offset="0.7083" stop-color="#a0a2d1"/>
<stop offset="0.7500" stop-color="#8c8fc8"/>
<stop offset="0.7917" stop-color="#777ebd"/>
<stop offset="0.8333" stop-color="#626cb2"/>
<stop offset="0.8750" stop-color="#505faa"/>
<stop offset="0.9167" stop-color="#3e52a2"/>
<stop offset="0.9583" stop-color="#2f4e9f"/>
<stop offset="1.0000" stop-color="#204a9c"/>
</linearGradient></defs>
<rect x="558.2" y="72.5" width="7.8" height="119.2" fill="url(#cb)"/>
<text x="569.2" y="95.90" font-size="9.5" fill="#222">1</text>
<text x="569.2" y="115.75" font-size="9.5" fill="#222">0.5</text>
<text x="569.2" y="135.60" font-size="9.5" fill="#222">0</text>
<text x="569.2" y="155.45" font-size="9.5" fill="#222">−0.5</text>
<text x="569.2" y="175.30" font-size="9.5" fill="#222">−1</text>
<text x="592" y="79.6" font-size="9.5" fill="#222">Group</text>
<rect x="592" y="82.90" width="13" height="13.90" fill="#93bf22"/>
<text x="608" y="93.00" font-size="9.2" fill="#222">Colchicine</text>
<rect x="592" y="96.60" width="13" height="13.90" fill="#f08a80"/>
<text x="608" y="106.70" font-size="9.2" fill="#222">Colchicine+MP−HJ−1b</text>
<rect x="592" y="110.30" width="13" height="13.90" fill="#4bbac6"/>
<text x="608" y="120.40" font-size="9.2" fill="#222">Ctrl</text>
<rect x="592" y="124.00" width="13" height="13.90" fill="#c098c9"/>
<text x="608" y="134.10" font-size="9.2" fill="#222">MP−HJ−1b</text>
<text x="1.2" y="1010.6" font-size="27" font-weight="bold">B</text>
<text x="130.75" y="1028.4" font-size="15.4" font-weight="bold" text-anchor="middle">DMSO</text>
<text x="202.2" y="1028.4" font-size="15.4" font-weight="bold" text-anchor="middle">MP-HJ-1b</text>
<text x="285.6" y="1028.4" font-size="15.4" font-weight="bold" text-anchor="middle">Colchicine</text>
<text x="85.6" y="1071.55" font-size="15.9" font-weight="bold" text-anchor="end">RPL35</text>
<text x="85.6" y="1117.75" font-size="15.9" font-weight="bold" text-anchor="end">MRPL28</text>
<text x="85.6" y="1163.90" font-size="15.9" font-weight="bold" text-anchor="end">GAPDH</text>
<defs>
<filter id="bl1" x="-30%" y="-80%" width="160%" height="260%"><feGaussianBlur stdDeviation="1.3"/></filter>
<filter id="bl2" x="-30%" y="-80%" width="160%" height="260%"><feGaussianBlur stdDeviation="2.6"/></filter>
<filter id="bl3" x="-30%" y="-80%" width="160%" height="260%"><feGaussianBlur stdDeviation="1.8"/></filter>
<linearGradient id="g1" x1="0" y1="0" x2="0" y2="1"><stop offset="0" stop-color="#6f7274"/><stop offset="0.5" stop-color="#777a7c"/><stop offset="1" stop-color="#808385"/></linearGradient>
<linearGradient id="g1h" x1="0" y1="0" x2="1" y2="0"><stop offset="0" stop-color="#fff" stop-opacity="0"/><stop offset="0.6" stop-color="#fff" stop-opacity="0.02"/><stop offset="1" stop-color="#fff" stop-opacity="0.12"/></linearGradient>
<linearGradient id="g2" x1="0" y1="0" x2="1" y2="0"><stop offset="0" stop-color="#a5a5a5"/><stop offset="0.08" stop-color="#b4b4b4"/><stop offset="1" stop-color="#b9b9ba"/></linearGradient>
<linearGradient id="g3" x1="0" y1="0" x2="1" y2="0"><stop offset="0" stop-color="#9ea3a8"/><stop offset="0.1" stop-color="#b3b6b9"/><stop offset="1" stop-color="#b8b9bb"/></linearGradient>
<linearGradient id="b22" x1="0" y1="0" x2="1" y2="0"><stop offset="0" stop-color="#7a7a7a"/><stop offset="0.55" stop-color="#3a3a3a"/><stop offset="1" stop-color="#5a5a5a"/></linearGradient>
<clipPath id="cp1"><rect x="97.8" y="1046.5" width="217.8" height="36.6"/></clipPath>
<clipPath id="cp2"><rect x="98.2" y="1094.1" width="217.6" height="36"/></clipPath>
<clipPath id="cp3"><rect x="98.2" y="1141.1" width="217.6" height="36.3"/></clipPath>
</defs>
<rect x="97.8" y="1046.5" width="217.8" height="36.6" fill="url(#g1)"/>
<rect x="97.8" y="1046.5" width="217.8" height="36.6" fill="url(#g1h)"/>
<g clip-path="url(#cp1)">
<path d="M178.6 1066.5 Q203 1057 228.3 1065.5" stroke="#505254" stroke-width="4" fill="none" opacity="0.55" filter="url(#bl3)"/>
<path d="M108.6 1063.5 C113 1058.5 127 1056.6 141 1056.8 C153 1057 160 1060.5 161 1065.5 C153 1069.4 124 1069.6 108.6 1063.5Z" fill="#333" opacity="0.5" filter="url(#bl2)"/>
<path d="M108.6 1063.5 C113 1058.5 127 1056.6 141 1056.8 C153 1057 160 1060.5 161 1065.5 C153 1069.4 124 1069.6 108.6 1063.5Z" fill="#080808" filter="url(#bl1)"/>
<path d="M250 1066 C250 1061.5 262 1058.8 280 1058.4 C296 1058.2 305 1061 307.3 1066.5 C305 1070.6 290 1071.8 278 1071.8 C262 1071.8 250 1070.6 250 1066Z" fill="#333" opacity="0.5" filter="url(#bl2)"/>
<path d="M250 1066 C250 1061.5 262 1058.8 280 1058.4 C296 1058.2 305 1061 307.3 1066.5 C305 1070.6 290 1071.8 278 1071.8 C262 1071.8 250 1070.6 250 1066Z" fill="#060606" filter="url(#bl1)"/>
<circle cx="275.9" cy="1050.6" r="1.4" fill="#222" filter="url(#bl1)"/>
</g>
<rect x="98.2" y="1094.1" width="217.6" height="36" fill="url(#g2)"/>
<g clip-path="url(#cp2)">
<ellipse cx="135.2" cy="1114.6" rx="23" ry="6" fill="#555" opacity="0.5" filter="url(#bl2)"/>
<ellipse cx="135.2" cy="1114.6" rx="21.8" ry="4.9" fill="#0c0c0c" filter="url(#bl1)"/>
<ellipse cx="207.5" cy="1111.4" rx="25.5" ry="4.8" fill="url(#b22)" filter="url(#bl3)"/>
<ellipse cx="279" cy="1111.4" rx="24" ry="8.2" fill="#555" opacity="0.5" filter="url(#bl2)"/>
<ellipse cx="279" cy="1111.4" rx="22.8" ry="7.3" fill="#060606" filter="url(#bl1)"/>
</g>
<rect x="98.2" y="1141.1" width="217.6" height="36.3" fill="url(#g3)"/>
<g clip-path="url(#cp3)">
<rect x="111.1" y="1151.8" width="53.9" height="18.4" rx="9.2" fill="#444" opacity="0.45" filter="url(#bl2)"/>
<rect x="112.1" y="1152.8" width="51.9" height="16.4" rx="8.2" fill="#060606" filter="url(#bl1)"/>
<rect x="180.0" y="1152.2" width="55.6" height="17.2" rx="8.6" fill="#444" opacity="0.45" filter="url(#bl2)"/>
<rect x="181.0" y="1153.2" width="53.6" height="15.2" rx="7.6" fill="#060606" filter="url(#bl1)"/>
<rect x="251.0" y="1150.5" width="53.6" height="17.4" rx="8.7" fill="#444" opacity="0.45" filter="url(#bl2)"/>
<rect x="252.0" y="1151.5" width="51.6" height="15.4" rx="7.7" fill="#060606" filter="url(#bl1)"/>
</g>
<text x="340.6" y="1010.8" font-size="27" font-weight="bold">C</text>
<text transform="translate(382.4,1092.7) rotate(-90)" x="0" y="0" font-size="18" font-weight="bold" text-anchor="middle">ATP relative content (%)</text>
<path d="M425.6 1005.3 L425.6 1174.6" stroke="#000" stroke-width="2.8" fill="none"/>
<path d="M418.4 1007.21 L425.6 1007.21" stroke="#000" stroke-width="2.6"/>
<text transform="translate(416.3,1013.31) scale(0.925,1)" font-size="17" font-weight="bold" text-anchor="end">110</text>
<path d="M418.4 1048.66 L425.6 1048.66" stroke="#000" stroke-width="2.6"/>
<text transform="translate(416.3,1054.76) scale(0.925,1)" font-size="17" font-weight="bold" text-anchor="end">105</text>
<path d="M418.4 1090.12 L425.6 1090.12" stroke="#000" stroke-width="2.6"/>
<text transform="translate(416.3,1096.22) scale(0.925,1)" font-size="17" font-weight="bold" text-anchor="end">100</text>
<path d="M418.4 1131.57 L425.6 1131.57" stroke="#000" stroke-width="2.6"/>
<text transform="translate(416.3,1137.67) scale(0.925,1)" font-size="17" font-weight="bold" text-anchor="end">95</text>
<path d="M418.4 1173.03 L425.6 1173.03" stroke="#000" stroke-width="2.6"/>
<text transform="translate(416.3,1179.13) scale(0.925,1)" font-size="17" font-weight="bold" text-anchor="end">90</text>
<path d="M424.2 1173 L676.5 1173" stroke="#000" stroke-width="3" stroke-linecap="round" fill="none"/>
<path d="M466.8 1173 L466.8 1181.2" stroke="#000" stroke-width="2.6" stroke-linecap="round"/>
<text x="466.8" y="1196.6" font-size="16" font-weight="bold" text-anchor="middle">DMSO</text>
<path d="M549.5 1173 L549.5 1181.2" stroke="#000" stroke-width="2.6" stroke-linecap="round"/>
<text x="549.5" y="1196.6" font-size="16" font-weight="bold" text-anchor="middle">MP-HJ-1b</text>
<path d="M632.5 1173 L632.5 1181.2" stroke="#000" stroke-width="2.6" stroke-linecap="round"/>
<text x="632.5" y="1196.6" font-size="16" font-weight="bold" text-anchor="middle">Colchicine</text>
<path d="M441.0 1173 L441.0 1092.9 L492.9 1092.9 L492.9 1173" stroke="#000" stroke-width="2.7" fill="none"/>
<path d="M523.5 1173 L523.5 1055.9 L575.5 1055.9 L575.5 1173" stroke="#e5171f" stroke-width="2.7" fill="none"/>
<path d="M606.6 1173 L606.6 1064.3 L658.4 1064.3 L658.4 1173" stroke="#12399c" stroke-width="2.7" fill="none"/>
<path d="M466.8 1073.6 L466.8 1109.3 M452.4 1073.6 L481.3 1073.6 M452.4 1109.3 L481.3 1109.3" stroke="#000" stroke-width="2.7" stroke-linecap="round" fill="none"/>
<path d="M549.5 1028.6 L549.5 1081.1 M535.1 1028.6 L564.3 1028.6 M535.1 1081.1 L564.3 1081.1" stroke="#e5171f" stroke-width="2.7" stroke-linecap="round" fill="none"/>
<path d="M632.5 1026.7 L632.5 1098.5 M617.5 1026.7 L647.1 1026.7 M617.5 1098.5 L647.1 1098.5" stroke="#12399c" stroke-width="2.7" stroke-linecap="round" fill="none"/>
<rect x="454.80" y="1060.85" width="10.8" height="10.5" fill="#000"/>
<rect x="468.60" y="1064.15" width="10.8" height="10.5" fill="#000"/>
<rect x="482.10" y="1079.65" width="10.8" height="10.5" fill="#000"/>
<rect x="441.00" y="1084.95" width="10.8" height="10.5" fill="#000"/>
<rect x="455.30" y="1084.95" width="10.8" height="10.5" fill="#000"/>
<rect x="468.10" y="1084.95" width="10.8" height="10.5" fill="#000"/>
<rect x="455.30" y="1093.35" width="10.8" height="10.5" fill="#000"/>
<rect x="468.20" y="1102.15" width="10.8" height="10.5" fill="#000"/>
<rect x="461.60" y="1118.75" width="10.8" height="10.5" fill="#000"/>
<circle cx="542.8" cy="1023.3" r="5.3" fill="#e5171f"/>
<circle cx="556.6" cy="1025.9" r="5.3" fill="#e5171f"/>
<circle cx="570.3" cy="1046.3" r="5.3" fill="#e5171f"/>
<circle cx="529" cy="1050.2" r="5.3" fill="#e5171f"/>
<circle cx="556.6" cy="1048.6" r="5.3" fill="#e5171f"/>
<circle cx="542.8" cy="1053.5" r="5.3" fill="#e5171f"/>
<circle cx="542.8" cy="1059.4" r="5.3" fill="#e5171f"/>
<circle cx="556.6" cy="1074.1" r="5.3" fill="#e5171f"/>
<circle cx="549.4" cy="1111.1" r="5.3" fill="#e5171f"/>
<path d="M632.4 1007.6 L637.70 1017.7 L627.10 1017.7Z" fill="#12399c"/>
<path d="M632.4 1027.6 L637.70 1035.9 L627.10 1035.9Z" fill="#12399c"/>
<path d="M632.4 1044.7 L637.70 1053.5 L627.10 1053.5Z" fill="#12399c"/>
<path d="M652.8 1044.4 L658.10 1054.5 L647.50 1054.5Z" fill="#12399c"/>
<path d="M611.4 1053.2 L616.70 1063.7 L606.10 1063.7Z" fill="#12399c"/>
<path d="M625.2 1056.5 L630.50 1067 L619.90 1067Z" fill="#12399c"/>
<path d="M639.4 1059.1 L644.70 1069.3 L634.10 1069.3Z" fill="#12399c"/>
<path d="M625.5 1108.2 L630.80 1118.8 L620.20 1118.8Z" fill="#12399c"/>
<path d="M639.4 1119.2 L644.70 1129.7 L634.10 1129.7Z" fill="#12399c"/>
<text x="549.5" y="1004.4" font-size="33.5" font-weight="bold" text-anchor="middle" letter-spacing="1.6">**</text>
<text x="632.85" y="1004.9" font-size="33.5" font-weight="bold" text-anchor="middle">*</text>
</svg>
</body></html>
